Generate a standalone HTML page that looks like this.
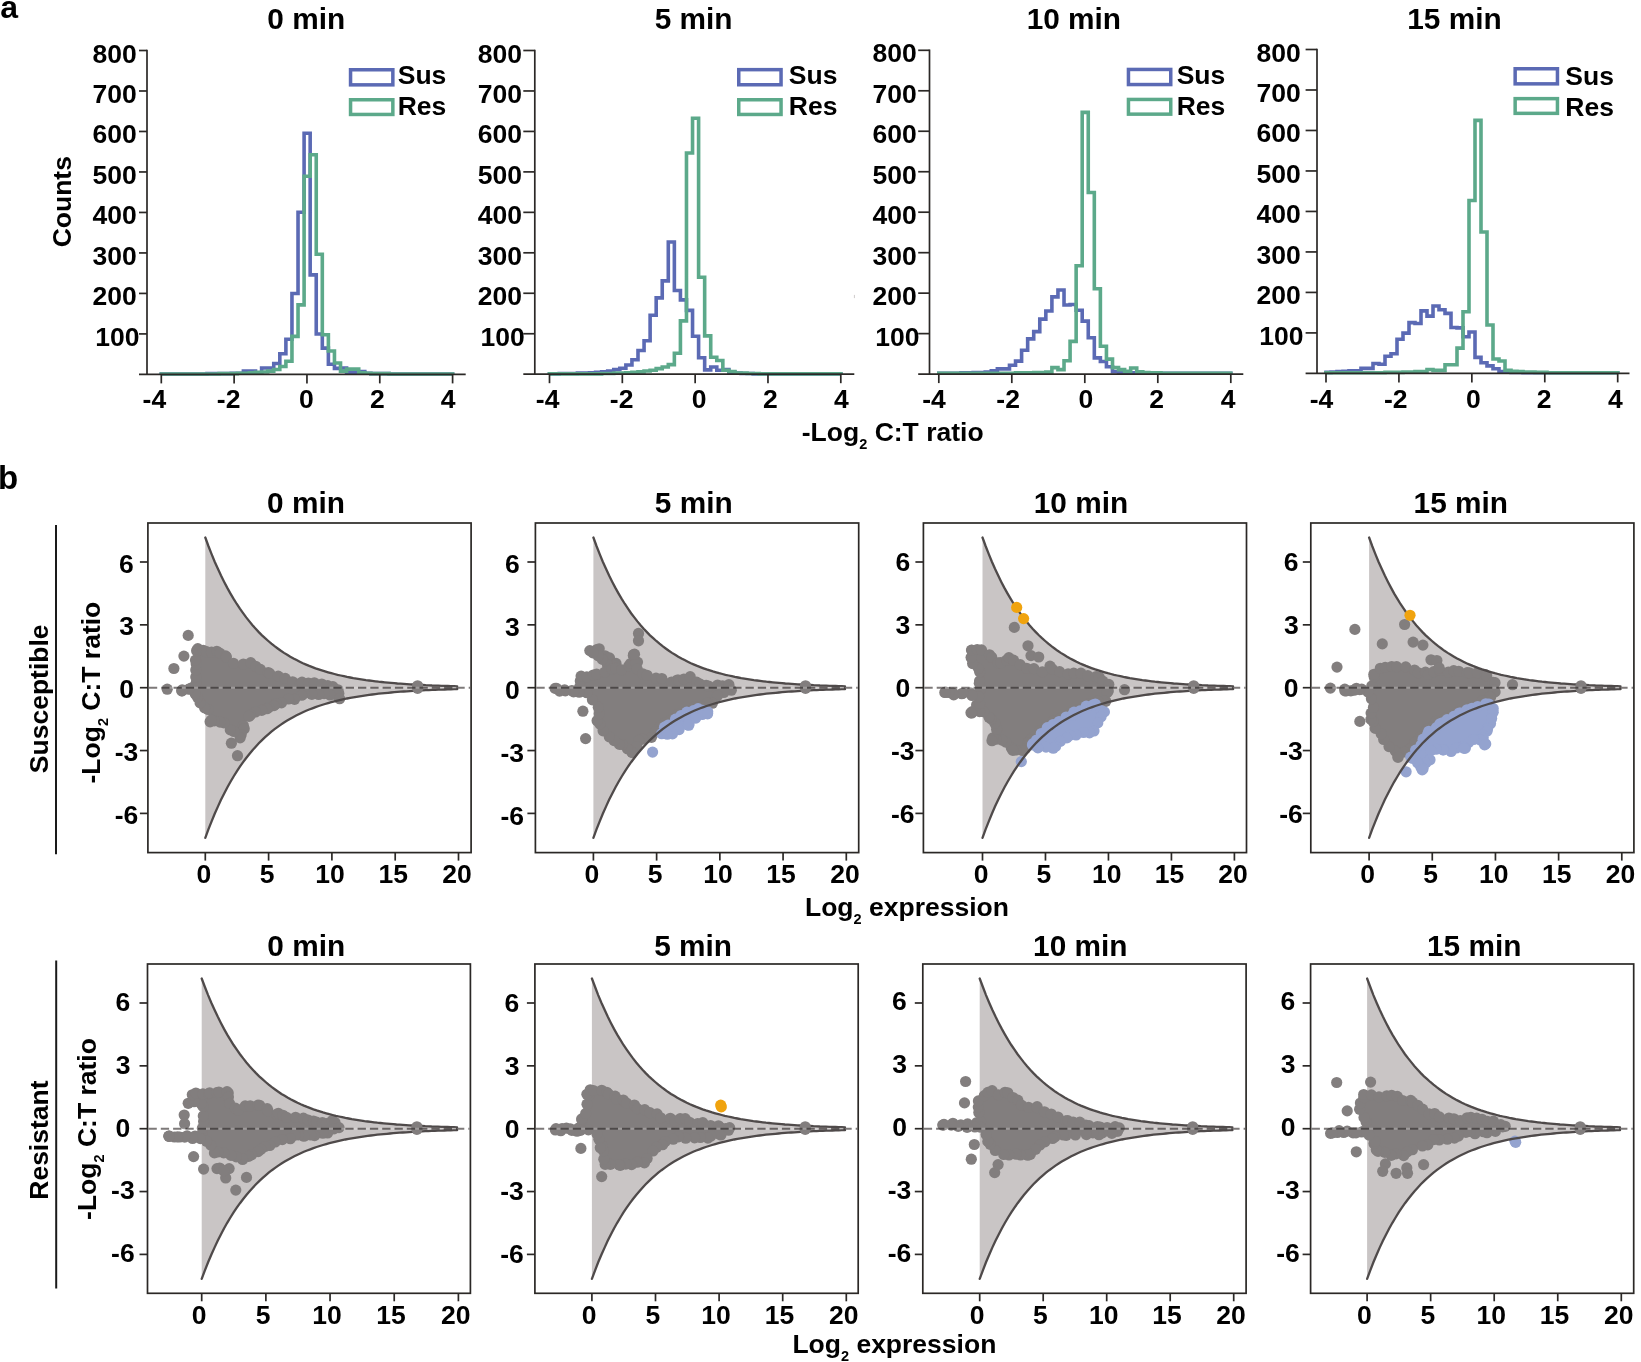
<!DOCTYPE html>
<html><head><meta charset="utf-8"><title>Figure</title>
<style>html,body{margin:0;padding:0;background:#fff;width:1641px;height:1362px;overflow:hidden}svg{display:block}</style>
</head><body>
<svg width="1641" height="1362" viewBox="0 0 1641 1362" font-family="'Liberation Sans', Arial, Helvetica, sans-serif" font-weight="bold" fill="#000">
<rect width="1641" height="1362" fill="#fff"/>
<path d="M161.30,374.40 L161.30,374.00 L164.49,374.00 L164.49,374.00 L170.56,374.00 L170.56,374.00 L176.63,374.00 L176.63,374.00 L182.70,374.00 L182.70,374.00 L188.77,374.00 L188.77,374.00 L194.84,374.00 L194.84,374.00 L200.91,374.00 L200.91,374.00 L206.98,374.00 L206.98,373.59 L213.05,373.59 L213.05,373.59 L219.12,373.59 L219.12,373.59 L225.19,373.59 L225.19,373.59 L231.26,373.59 L231.26,373.19 L237.33,373.19 L237.33,373.19 L243.40,373.19 L243.40,371.16 L249.47,371.16 L249.47,371.16 L255.54,371.16 L255.54,372.78 L261.61,372.78 L261.61,367.93 L267.68,367.93 L267.68,367.93 L273.75,367.93 L273.75,363.48 L279.82,363.48 L279.82,353.77 L285.89,353.77 L285.89,339.21 L291.96,339.21 L291.96,293.50 L298.03,293.50 L298.03,212.20 L304.10,212.20 L304.10,133.32 L310.17,133.32 L310.17,274.89 L316.24,274.89 L316.24,333.95 L322.31,333.95 L322.31,348.11 L328.38,348.11 L328.38,364.29 L334.45,364.29 L334.45,368.33 L340.52,368.33 L340.52,367.93 L346.59,367.93 L346.59,372.38 L352.66,372.38 L352.66,372.38 L358.73,372.38 L358.73,371.57 L364.80,371.57 L364.80,373.19 L370.87,373.19 L370.87,373.59 L376.94,373.59 L376.94,373.59 L383.01,373.59 L383.01,373.59 L389.08,373.59 L389.08,374.00 L395.15,374.00 L395.15,374.00 L401.22,374.00 L401.22,374.00 L407.29,374.00 L407.29,374.00 L413.36,374.00 L413.36,374.00 L419.43,374.00 L419.43,374.00 L425.50,374.00 L425.50,374.00 L431.57,374.00 L431.57,374.00 L437.64,374.00 L437.64,374.00 L443.71,374.00 L443.71,374.00 L449.78,374.00 L449.78,374.00 L452.60,374.00 L452.60,374.40" fill="none" stroke="#5b6ab4" stroke-width="3.6" stroke-linejoin="miter"/>
<path d="M161.30,374.40 L161.30,374.00 L164.49,374.00 L164.49,374.00 L170.56,374.00 L170.56,374.00 L176.63,374.00 L176.63,374.00 L182.70,374.00 L182.70,374.00 L188.77,374.00 L188.77,374.00 L194.84,374.00 L194.84,374.00 L200.91,374.00 L200.91,374.00 L206.98,374.00 L206.98,374.00 L213.05,374.00 L213.05,374.00 L219.12,374.00 L219.12,373.59 L225.19,373.59 L225.19,373.59 L231.26,373.59 L231.26,373.59 L237.33,373.59 L237.33,373.19 L243.40,373.19 L243.40,373.19 L249.47,373.19 L249.47,372.78 L255.54,372.78 L255.54,372.38 L261.61,372.38 L261.61,371.97 L267.68,371.97 L267.68,371.16 L273.75,371.16 L273.75,369.55 L279.82,369.55 L279.82,366.51 L285.89,366.51 L285.89,361.21 L291.96,361.21 L291.96,336.38 L298.03,336.38 L298.03,304.83 L304.10,304.83 L304.10,176.19 L310.17,176.19 L310.17,154.76 L316.24,154.76 L316.24,254.26 L322.31,254.26 L322.31,334.76 L328.38,334.76 L328.38,350.94 L334.45,350.94 L334.45,363.07 L340.52,363.07 L340.52,371.16 L346.59,371.16 L346.59,369.14 L352.66,369.14 L352.66,369.14 L358.73,369.14 L358.73,372.78 L364.80,372.78 L364.80,373.19 L370.87,373.19 L370.87,373.59 L376.94,373.59 L376.94,373.59 L383.01,373.59 L383.01,373.59 L389.08,373.59 L389.08,374.00 L395.15,374.00 L395.15,374.00 L401.22,374.00 L401.22,374.00 L407.29,374.00 L407.29,374.00 L413.36,374.00 L413.36,374.00 L419.43,374.00 L419.43,374.00 L425.50,374.00 L425.50,374.00 L431.57,374.00 L431.57,374.00 L437.64,374.00 L437.64,374.00 L443.71,374.00 L443.71,374.00 L449.78,374.00 L449.78,374.00 L452.60,374.00 L452.60,374.40" fill="none" stroke="#5ca98a" stroke-width="3.6" stroke-linejoin="miter"/>
<path d="M549.50,374.30 L549.50,373.90 L553.16,373.90 L553.16,373.90 L559.22,373.90 L559.22,373.49 L565.28,373.49 L565.28,373.49 L571.34,373.49 L571.34,373.49 L577.40,373.49 L577.40,373.09 L583.46,373.09 L583.46,373.09 L589.52,373.09 L589.52,372.68 L595.58,372.68 L595.58,372.28 L601.64,372.28 L601.64,371.87 L607.70,371.87 L607.70,371.06 L613.76,371.06 L613.76,369.45 L619.82,369.45 L619.82,368.23 L625.88,368.23 L625.88,365.00 L631.94,365.00 L631.94,359.74 L638.00,359.74 L638.00,350.43 L644.06,350.43 L644.06,340.73 L650.12,340.73 L650.12,315.24 L656.18,315.24 L656.18,297.85 L662.24,297.85 L662.24,280.86 L668.30,280.86 L668.30,242.03 L674.36,242.03 L674.36,290.57 L680.42,290.57 L680.42,299.87 L686.48,299.87 L686.48,310.39 L692.54,310.39 L692.54,336.28 L698.60,336.28 L698.60,357.72 L704.66,357.72 L704.66,369.85 L710.72,369.85 L710.72,367.02 L716.78,367.02 L716.78,370.25 L722.84,370.25 L722.84,369.45 L728.90,369.45 L728.90,372.28 L734.96,372.28 L734.96,373.09 L741.02,373.09 L741.02,373.49 L747.08,373.49 L747.08,373.49 L753.14,373.49 L753.14,373.90 L759.20,373.90 L759.20,373.90 L765.26,373.90 L765.26,373.90 L771.32,373.90 L771.32,373.90 L777.38,373.90 L777.38,373.90 L783.44,373.90 L783.44,373.90 L789.50,373.90 L789.50,373.90 L795.56,373.90 L795.56,373.90 L801.62,373.90 L801.62,373.90 L807.68,373.90 L807.68,373.90 L813.74,373.90 L813.74,373.90 L819.80,373.90 L819.80,373.90 L825.86,373.90 L825.86,373.90 L831.92,373.90 L831.92,373.90 L837.98,373.90 L837.98,373.90 L840.80,373.90 L840.80,374.30" fill="none" stroke="#5b6ab4" stroke-width="3.6" stroke-linejoin="miter"/>
<path d="M549.50,374.30 L549.50,373.90 L553.16,373.90 L553.16,373.90 L559.22,373.90 L559.22,373.90 L565.28,373.90 L565.28,373.90 L571.34,373.90 L571.34,373.90 L577.40,373.90 L577.40,373.90 L583.46,373.90 L583.46,373.90 L589.52,373.90 L589.52,373.90 L595.58,373.90 L595.58,373.90 L601.64,373.90 L601.64,373.49 L607.70,373.49 L607.70,373.49 L613.76,373.49 L613.76,373.09 L619.82,373.09 L619.82,373.09 L625.88,373.09 L625.88,372.68 L631.94,372.68 L631.94,372.28 L638.00,372.28 L638.00,371.87 L644.06,371.87 L644.06,371.06 L650.12,371.06 L650.12,370.25 L656.18,370.25 L656.18,368.64 L662.24,368.64 L662.24,367.02 L668.30,367.02 L668.30,364.59 L674.36,364.59 L674.36,353.27 L680.42,353.27 L680.42,320.91 L686.48,320.91 L686.48,153.04 L692.54,153.04 L692.54,118.25 L698.60,118.25 L698.60,277.22 L704.66,277.22 L704.66,335.87 L710.72,335.87 L710.72,357.31 L716.78,357.31 L716.78,360.55 L722.84,360.55 L722.84,370.25 L728.90,370.25 L728.90,371.47 L734.96,371.47 L734.96,373.09 L741.02,373.09 L741.02,373.09 L747.08,373.09 L747.08,373.49 L753.14,373.49 L753.14,373.49 L759.20,373.49 L759.20,373.90 L765.26,373.90 L765.26,373.90 L771.32,373.90 L771.32,373.90 L777.38,373.90 L777.38,373.90 L783.44,373.90 L783.44,373.90 L789.50,373.90 L789.50,373.90 L795.56,373.90 L795.56,373.90 L801.62,373.90 L801.62,373.90 L807.68,373.90 L807.68,373.90 L813.74,373.90 L813.74,373.90 L819.80,373.90 L819.80,373.90 L825.86,373.90 L825.86,373.90 L831.92,373.90 L831.92,373.90 L837.98,373.90 L837.98,373.90 L840.80,373.90 L840.80,374.30" fill="none" stroke="#5ca98a" stroke-width="3.6" stroke-linejoin="miter"/>
<path d="M938.80,373.70 L938.80,373.30 L942.82,373.30 L942.82,373.30 L948.88,373.30 L948.88,373.30 L954.94,373.30 L954.94,373.30 L961.00,373.30 L961.00,372.89 L967.06,372.89 L967.06,372.89 L973.12,372.89 L973.12,372.49 L979.18,372.49 L979.18,372.49 L985.24,372.49 L985.24,372.08 L991.30,372.08 L991.30,370.87 L997.36,370.87 L997.36,368.85 L1003.42,368.85 L1003.42,368.85 L1009.48,368.85 L1009.48,365.21 L1015.54,365.21 L1015.54,361.16 L1021.60,361.16 L1021.60,350.24 L1027.66,350.24 L1027.66,338.91 L1033.72,338.91 L1033.72,331.63 L1039.78,331.63 L1039.78,319.09 L1045.84,319.09 L1045.84,311.00 L1051.90,311.00 L1051.90,296.84 L1057.96,296.84 L1057.96,289.97 L1064.02,289.97 L1064.02,304.94 L1070.08,304.94 L1070.08,304.53 L1076.14,304.53 L1076.14,310.19 L1082.20,310.19 L1082.20,321.12 L1088.26,321.12 L1088.26,337.70 L1094.32,337.70 L1094.32,357.92 L1100.38,357.92 L1100.38,361.56 L1106.44,361.56 L1106.44,366.82 L1112.50,366.82 L1112.50,371.68 L1118.56,371.68 L1118.56,372.49 L1124.62,372.49 L1124.62,372.89 L1130.68,372.89 L1130.68,372.89 L1136.74,372.89 L1136.74,373.30 L1142.80,373.30 L1142.80,373.30 L1148.86,373.30 L1148.86,373.30 L1154.92,373.30 L1154.92,373.30 L1160.98,373.30 L1160.98,373.30 L1167.04,373.30 L1167.04,373.30 L1173.10,373.30 L1173.10,373.30 L1179.16,373.30 L1179.16,373.30 L1185.22,373.30 L1185.22,373.30 L1191.28,373.30 L1191.28,373.30 L1197.34,373.30 L1197.34,373.30 L1203.40,373.30 L1203.40,373.30 L1209.46,373.30 L1209.46,373.30 L1215.52,373.30 L1215.52,373.30 L1221.58,373.30 L1221.58,373.30 L1227.64,373.30 L1227.64,373.30 L1230.80,373.30 L1230.80,373.70" fill="none" stroke="#5b6ab4" stroke-width="3.6" stroke-linejoin="miter"/>
<path d="M938.80,373.70 L938.80,373.30 L942.82,373.30 L942.82,373.30 L948.88,373.30 L948.88,373.30 L954.94,373.30 L954.94,373.30 L961.00,373.30 L961.00,373.30 L967.06,373.30 L967.06,373.30 L973.12,373.30 L973.12,373.30 L979.18,373.30 L979.18,373.30 L985.24,373.30 L985.24,373.30 L991.30,373.30 L991.30,373.30 L997.36,373.30 L997.36,373.30 L1003.42,373.30 L1003.42,373.30 L1009.48,373.30 L1009.48,373.30 L1015.54,373.30 L1015.54,372.89 L1021.60,372.89 L1021.60,372.89 L1027.66,372.89 L1027.66,372.89 L1033.72,372.89 L1033.72,372.49 L1039.78,372.49 L1039.78,372.49 L1045.84,372.49 L1045.84,372.08 L1051.90,372.08 L1051.90,367.63 L1057.96,367.63 L1057.96,369.65 L1064.02,369.65 L1064.02,360.76 L1070.08,360.76 L1070.08,341.34 L1076.14,341.34 L1076.14,265.70 L1082.20,265.70 L1082.20,112.39 L1088.26,112.39 L1088.26,192.48 L1094.32,192.48 L1094.32,288.75 L1100.38,288.75 L1100.38,346.19 L1106.44,346.19 L1106.44,359.14 L1112.50,359.14 L1112.50,367.63 L1118.56,367.63 L1118.56,369.65 L1124.62,369.65 L1124.62,371.27 L1130.68,371.27 L1130.68,368.04 L1136.74,368.04 L1136.74,371.68 L1142.80,371.68 L1142.80,372.49 L1148.86,372.49 L1148.86,372.89 L1154.92,372.89 L1154.92,372.89 L1160.98,372.89 L1160.98,373.30 L1167.04,373.30 L1167.04,373.30 L1173.10,373.30 L1173.10,373.30 L1179.16,373.30 L1179.16,373.30 L1185.22,373.30 L1185.22,373.30 L1191.28,373.30 L1191.28,373.30 L1197.34,373.30 L1197.34,373.30 L1203.40,373.30 L1203.40,373.30 L1209.46,373.30 L1209.46,373.30 L1215.52,373.30 L1215.52,373.30 L1221.58,373.30 L1221.58,373.30 L1227.64,373.30 L1227.64,373.30 L1230.80,373.30 L1230.80,373.70" fill="none" stroke="#5ca98a" stroke-width="3.6" stroke-linejoin="miter"/>
<path d="M1326.00,373.20 L1326.00,372.39 L1331.00,372.39 L1331.00,371.99 L1337.00,371.99 L1337.00,371.58 L1343.00,371.58 L1343.00,371.18 L1349.00,371.18 L1349.00,370.77 L1355.00,370.77 L1355.00,370.77 L1361.00,370.77 L1361.00,368.35 L1367.00,368.35 L1367.00,368.35 L1373.00,368.35 L1373.00,363.49 L1379.00,363.49 L1379.00,364.30 L1385.00,364.30 L1385.00,356.21 L1391.00,356.21 L1391.00,353.78 L1397.00,353.78 L1397.00,339.22 L1403.00,339.22 L1403.00,333.15 L1409.00,333.15 L1409.00,322.64 L1415.00,322.64 L1415.00,323.45 L1421.00,323.45 L1421.00,310.91 L1427.00,310.91 L1427.00,316.17 L1433.00,316.17 L1433.00,306.05 L1439.00,306.05 L1439.00,309.69 L1445.00,309.69 L1445.00,313.33 L1451.00,313.33 L1451.00,327.49 L1457.00,327.49 L1457.00,327.90 L1463.00,327.90 L1463.00,336.79 L1469.00,336.79 L1469.00,331.94 L1475.00,331.94 L1475.00,357.42 L1481.00,357.42 L1481.00,362.68 L1487.00,362.68 L1487.00,365.92 L1493.00,365.92 L1493.00,368.75 L1499.00,368.75 L1499.00,371.58 L1505.00,371.58 L1505.00,371.99 L1511.00,371.99 L1511.00,372.39 L1517.00,372.39 L1517.00,372.39 L1523.00,372.39 L1523.00,372.80 L1529.00,372.80 L1529.00,372.80 L1535.00,372.80 L1535.00,372.80 L1541.00,372.80 L1541.00,372.80 L1547.00,372.80 L1547.00,372.80 L1553.00,372.80 L1553.00,372.80 L1559.00,372.80 L1559.00,372.80 L1565.00,372.80 L1565.00,372.80 L1571.00,372.80 L1571.00,372.80 L1577.00,372.80 L1577.00,372.80 L1583.00,372.80 L1583.00,372.80 L1589.00,372.80 L1589.00,372.80 L1595.00,372.80 L1595.00,372.80 L1601.00,372.80 L1601.00,372.80 L1607.00,372.80 L1607.00,372.80 L1613.00,372.80 L1613.00,372.80 L1617.70,372.80 L1617.70,373.20" fill="none" stroke="#5b6ab4" stroke-width="3.6" stroke-linejoin="miter"/>
<path d="M1326.00,373.20 L1326.00,372.80 L1331.00,372.80 L1331.00,372.80 L1337.00,372.80 L1337.00,372.80 L1343.00,372.80 L1343.00,372.80 L1349.00,372.80 L1349.00,372.80 L1355.00,372.80 L1355.00,372.80 L1361.00,372.80 L1361.00,372.80 L1367.00,372.80 L1367.00,372.80 L1373.00,372.80 L1373.00,372.80 L1379.00,372.80 L1379.00,372.80 L1385.00,372.80 L1385.00,372.39 L1391.00,372.39 L1391.00,372.39 L1397.00,372.39 L1397.00,372.39 L1403.00,372.39 L1403.00,371.99 L1409.00,371.99 L1409.00,371.99 L1415.00,371.99 L1415.00,371.58 L1421.00,371.58 L1421.00,371.58 L1427.00,371.58 L1427.00,369.56 L1433.00,369.56 L1433.00,370.37 L1439.00,370.37 L1439.00,370.37 L1445.00,370.37 L1445.00,364.71 L1451.00,364.71 L1451.00,364.71 L1457.00,364.71 L1457.00,348.12 L1463.00,348.12 L1463.00,311.72 L1469.00,311.72 L1469.00,200.48 L1475.00,200.48 L1475.00,120.39 L1481.00,120.39 L1481.00,232.03 L1487.00,232.03 L1487.00,325.06 L1493.00,325.06 L1493.00,359.04 L1499.00,359.04 L1499.00,361.06 L1505.00,361.06 L1505.00,370.37 L1511.00,370.37 L1511.00,371.18 L1517.00,371.18 L1517.00,371.58 L1523.00,371.58 L1523.00,371.99 L1529.00,371.99 L1529.00,371.99 L1535.00,371.99 L1535.00,372.39 L1541.00,372.39 L1541.00,372.39 L1547.00,372.39 L1547.00,372.80 L1553.00,372.80 L1553.00,372.80 L1559.00,372.80 L1559.00,372.80 L1565.00,372.80 L1565.00,372.80 L1571.00,372.80 L1571.00,372.80 L1577.00,372.80 L1577.00,372.80 L1583.00,372.80 L1583.00,372.80 L1589.00,372.80 L1589.00,372.80 L1595.00,372.80 L1595.00,372.80 L1601.00,372.80 L1601.00,372.80 L1607.00,372.80 L1607.00,372.80 L1613.00,372.80 L1613.00,372.80 L1617.70,372.80 L1617.70,373.20" fill="none" stroke="#5ca98a" stroke-width="3.6" stroke-linejoin="miter"/>
<text x="267.32" y="29.00" font-size="29.8" text-anchor="start" >0 min</text>
<line x1="147.00" y1="49.65" x2="147.00" y2="374.40" stroke="#2b2826" stroke-width="1.7" />
<line x1="139.00" y1="333.91" x2="147.00" y2="333.91" stroke="#2b2826" stroke-width="1.7" />
<text x="95.37" y="345.91" font-size="26.5" text-anchor="start" >100</text>
<line x1="139.00" y1="293.42" x2="147.00" y2="293.42" stroke="#2b2826" stroke-width="1.7" />
<text x="92.57" y="305.42" font-size="26.5" text-anchor="start" >200</text>
<line x1="139.00" y1="252.94" x2="147.00" y2="252.94" stroke="#2b2826" stroke-width="1.7" />
<text x="92.57" y="264.94" font-size="26.5" text-anchor="start" >300</text>
<line x1="139.00" y1="212.45" x2="147.00" y2="212.45" stroke="#2b2826" stroke-width="1.7" />
<text x="92.57" y="224.45" font-size="26.5" text-anchor="start" >400</text>
<line x1="139.00" y1="171.96" x2="147.00" y2="171.96" stroke="#2b2826" stroke-width="1.7" />
<text x="92.57" y="183.96" font-size="26.5" text-anchor="start" >500</text>
<line x1="139.00" y1="131.47" x2="147.00" y2="131.47" stroke="#2b2826" stroke-width="1.7" />
<text x="92.57" y="143.47" font-size="26.5" text-anchor="start" >600</text>
<line x1="139.00" y1="90.99" x2="147.00" y2="90.99" stroke="#2b2826" stroke-width="1.7" />
<text x="92.57" y="102.99" font-size="26.5" text-anchor="start" >700</text>
<line x1="139.00" y1="50.50" x2="147.00" y2="50.50" stroke="#2b2826" stroke-width="1.7" />
<text x="92.57" y="62.50" font-size="26.5" text-anchor="start" >800</text>
<line x1="139.00" y1="374.40" x2="465.70" y2="374.40" stroke="#2b2826" stroke-width="1.7" />
<line x1="161.30" y1="374.40" x2="161.30" y2="383.40" stroke="#2b2826" stroke-width="1.7" />
<text x="142.62" y="407.70" font-size="26.5" text-anchor="start" >-4</text>
<line x1="234.12" y1="374.40" x2="234.12" y2="383.40" stroke="#2b2826" stroke-width="1.7" />
<text x="216.83" y="407.70" font-size="26.5" text-anchor="start" >-2</text>
<line x1="306.95" y1="374.40" x2="306.95" y2="383.40" stroke="#2b2826" stroke-width="1.7" />
<text x="298.90" y="407.70" font-size="26.5" text-anchor="start" >0</text>
<line x1="379.78" y1="374.40" x2="379.78" y2="383.40" stroke="#2b2826" stroke-width="1.7" />
<text x="369.90" y="407.70" font-size="26.5" text-anchor="start" >2</text>
<line x1="452.60" y1="374.40" x2="452.60" y2="383.40" stroke="#2b2826" stroke-width="1.7" />
<text x="440.70" y="407.70" font-size="26.5" text-anchor="start" >4</text>
<rect x="350.55" y="69.75" width="42.3" height="15.1" fill="none" stroke="#5b6ab4" stroke-width="3.5"/>
<rect x="350.55" y="99.75" width="42.3" height="14.7" fill="none" stroke="#5ca98a" stroke-width="3.5"/>
<text x="397.74" y="84.40" font-size="26.5" text-anchor="start" >Sus</text>
<text x="397.74" y="114.90" font-size="26.5" text-anchor="start" >Res</text>
<text x="654.75" y="29.00" font-size="29.8" text-anchor="start" >5 min</text>
<line x1="534.80" y1="49.65" x2="534.80" y2="374.20" stroke="#2b2826" stroke-width="1.7" />
<line x1="523.30" y1="333.74" x2="534.80" y2="333.74" stroke="#2b2826" stroke-width="1.7" />
<text x="480.47" y="345.74" font-size="26.5" text-anchor="start" >100</text>
<line x1="523.30" y1="293.27" x2="534.80" y2="293.27" stroke="#2b2826" stroke-width="1.7" />
<text x="477.67" y="305.27" font-size="26.5" text-anchor="start" >200</text>
<line x1="523.30" y1="252.81" x2="534.80" y2="252.81" stroke="#2b2826" stroke-width="1.7" />
<text x="477.67" y="264.81" font-size="26.5" text-anchor="start" >300</text>
<line x1="523.30" y1="212.35" x2="534.80" y2="212.35" stroke="#2b2826" stroke-width="1.7" />
<text x="477.67" y="224.35" font-size="26.5" text-anchor="start" >400</text>
<line x1="523.30" y1="171.89" x2="534.80" y2="171.89" stroke="#2b2826" stroke-width="1.7" />
<text x="477.67" y="183.89" font-size="26.5" text-anchor="start" >500</text>
<line x1="523.30" y1="131.43" x2="534.80" y2="131.43" stroke="#2b2826" stroke-width="1.7" />
<text x="477.67" y="143.43" font-size="26.5" text-anchor="start" >600</text>
<line x1="523.30" y1="90.96" x2="534.80" y2="90.96" stroke="#2b2826" stroke-width="1.7" />
<text x="477.67" y="102.96" font-size="26.5" text-anchor="start" >700</text>
<line x1="523.30" y1="50.50" x2="534.80" y2="50.50" stroke="#2b2826" stroke-width="1.7" />
<text x="477.67" y="62.50" font-size="26.5" text-anchor="start" >800</text>
<line x1="523.30" y1="374.20" x2="854.30" y2="374.20" stroke="#2b2826" stroke-width="1.7" />
<line x1="549.50" y1="374.20" x2="549.50" y2="383.20" stroke="#2b2826" stroke-width="1.7" />
<text x="535.82" y="407.70" font-size="26.5" text-anchor="start" >-4</text>
<line x1="622.33" y1="374.20" x2="622.33" y2="383.20" stroke="#2b2826" stroke-width="1.7" />
<text x="609.83" y="407.70" font-size="26.5" text-anchor="start" >-2</text>
<line x1="695.15" y1="374.20" x2="695.15" y2="383.20" stroke="#2b2826" stroke-width="1.7" />
<text x="691.80" y="407.70" font-size="26.5" text-anchor="start" >0</text>
<line x1="767.97" y1="374.20" x2="767.97" y2="383.20" stroke="#2b2826" stroke-width="1.7" />
<text x="763.10" y="407.70" font-size="26.5" text-anchor="start" >2</text>
<line x1="840.80" y1="374.20" x2="840.80" y2="383.20" stroke="#2b2826" stroke-width="1.7" />
<text x="834.10" y="407.70" font-size="26.5" text-anchor="start" >4</text>
<rect x="738.75" y="69.65" width="42.3" height="15.1" fill="none" stroke="#5b6ab4" stroke-width="3.5"/>
<rect x="738.75" y="99.75" width="42.3" height="14.7" fill="none" stroke="#5ca98a" stroke-width="3.5"/>
<text x="788.84" y="84.30" font-size="26.5" text-anchor="start" >Sus</text>
<text x="788.84" y="114.80" font-size="26.5" text-anchor="start" >Res</text>
<text x="1026.68" y="29.00" font-size="29.8" text-anchor="start" >10 min</text>
<line x1="929.50" y1="49.45" x2="929.50" y2="374.10" stroke="#2b2826" stroke-width="1.7" />
<line x1="918.20" y1="333.62" x2="929.50" y2="333.62" stroke="#2b2826" stroke-width="1.7" />
<text x="875.27" y="345.62" font-size="26.5" text-anchor="start" >100</text>
<line x1="918.20" y1="293.15" x2="929.50" y2="293.15" stroke="#2b2826" stroke-width="1.7" />
<text x="872.47" y="305.15" font-size="26.5" text-anchor="start" >200</text>
<line x1="918.20" y1="252.68" x2="929.50" y2="252.68" stroke="#2b2826" stroke-width="1.7" />
<text x="872.47" y="264.68" font-size="26.5" text-anchor="start" >300</text>
<line x1="918.20" y1="212.20" x2="929.50" y2="212.20" stroke="#2b2826" stroke-width="1.7" />
<text x="872.47" y="224.20" font-size="26.5" text-anchor="start" >400</text>
<line x1="918.20" y1="171.73" x2="929.50" y2="171.73" stroke="#2b2826" stroke-width="1.7" />
<text x="872.47" y="183.73" font-size="26.5" text-anchor="start" >500</text>
<line x1="918.20" y1="131.25" x2="929.50" y2="131.25" stroke="#2b2826" stroke-width="1.7" />
<text x="872.47" y="143.25" font-size="26.5" text-anchor="start" >600</text>
<line x1="918.20" y1="90.78" x2="929.50" y2="90.78" stroke="#2b2826" stroke-width="1.7" />
<text x="872.47" y="102.78" font-size="26.5" text-anchor="start" >700</text>
<line x1="918.20" y1="50.30" x2="929.50" y2="50.30" stroke="#2b2826" stroke-width="1.7" />
<text x="872.47" y="62.30" font-size="26.5" text-anchor="start" >800</text>
<line x1="918.20" y1="374.10" x2="1243.30" y2="374.10" stroke="#2b2826" stroke-width="1.7" />
<line x1="938.80" y1="374.10" x2="938.80" y2="383.10" stroke="#2b2826" stroke-width="1.7" />
<text x="922.27" y="407.70" font-size="26.5" text-anchor="start" >-4</text>
<line x1="1011.80" y1="374.10" x2="1011.80" y2="383.10" stroke="#2b2826" stroke-width="1.7" />
<text x="996.33" y="407.70" font-size="26.5" text-anchor="start" >-2</text>
<line x1="1084.80" y1="374.10" x2="1084.80" y2="383.10" stroke="#2b2826" stroke-width="1.7" />
<text x="1078.50" y="407.70" font-size="26.5" text-anchor="start" >0</text>
<line x1="1157.80" y1="374.10" x2="1157.80" y2="383.10" stroke="#2b2826" stroke-width="1.7" />
<text x="1149.35" y="407.70" font-size="26.5" text-anchor="start" >2</text>
<line x1="1230.80" y1="374.10" x2="1230.80" y2="383.10" stroke="#2b2826" stroke-width="1.7" />
<text x="1220.70" y="407.70" font-size="26.5" text-anchor="start" >4</text>
<rect x="1128.45" y="69.45" width="42.3" height="15.1" fill="none" stroke="#5b6ab4" stroke-width="3.5"/>
<rect x="1128.45" y="99.45" width="42.3" height="14.7" fill="none" stroke="#5ca98a" stroke-width="3.5"/>
<text x="1176.64" y="84.30" font-size="26.5" text-anchor="start" >Sus</text>
<text x="1176.64" y="114.80" font-size="26.5" text-anchor="start" >Res</text>
<text x="1407.28" y="29.00" font-size="29.8" text-anchor="start" >15 min</text>
<line x1="1317.00" y1="48.65" x2="1317.00" y2="373.40" stroke="#2b2826" stroke-width="1.7" />
<line x1="1305.60" y1="332.91" x2="1317.00" y2="332.91" stroke="#2b2826" stroke-width="1.7" />
<text x="1259.37" y="344.91" font-size="26.5" text-anchor="start" >100</text>
<line x1="1305.60" y1="292.42" x2="1317.00" y2="292.42" stroke="#2b2826" stroke-width="1.7" />
<text x="1256.57" y="304.42" font-size="26.5" text-anchor="start" >200</text>
<line x1="1305.60" y1="251.94" x2="1317.00" y2="251.94" stroke="#2b2826" stroke-width="1.7" />
<text x="1256.57" y="263.94" font-size="26.5" text-anchor="start" >300</text>
<line x1="1305.60" y1="211.45" x2="1317.00" y2="211.45" stroke="#2b2826" stroke-width="1.7" />
<text x="1256.57" y="223.45" font-size="26.5" text-anchor="start" >400</text>
<line x1="1305.60" y1="170.96" x2="1317.00" y2="170.96" stroke="#2b2826" stroke-width="1.7" />
<text x="1256.57" y="182.96" font-size="26.5" text-anchor="start" >500</text>
<line x1="1305.60" y1="130.47" x2="1317.00" y2="130.47" stroke="#2b2826" stroke-width="1.7" />
<text x="1256.57" y="142.47" font-size="26.5" text-anchor="start" >600</text>
<line x1="1305.60" y1="89.99" x2="1317.00" y2="89.99" stroke="#2b2826" stroke-width="1.7" />
<text x="1256.57" y="101.99" font-size="26.5" text-anchor="start" >700</text>
<line x1="1305.60" y1="49.50" x2="1317.00" y2="49.50" stroke="#2b2826" stroke-width="1.7" />
<text x="1256.57" y="61.50" font-size="26.5" text-anchor="start" >800</text>
<line x1="1305.60" y1="373.40" x2="1629.50" y2="373.40" stroke="#2b2826" stroke-width="1.7" />
<line x1="1326.00" y1="373.40" x2="1326.00" y2="382.40" stroke="#2b2826" stroke-width="1.7" />
<text x="1309.67" y="407.70" font-size="26.5" text-anchor="start" >-4</text>
<line x1="1398.92" y1="373.40" x2="1398.92" y2="382.40" stroke="#2b2826" stroke-width="1.7" />
<text x="1384.03" y="407.70" font-size="26.5" text-anchor="start" >-2</text>
<line x1="1471.85" y1="373.40" x2="1471.85" y2="382.40" stroke="#2b2826" stroke-width="1.7" />
<text x="1466.00" y="407.70" font-size="26.5" text-anchor="start" >0</text>
<line x1="1544.78" y1="373.40" x2="1544.78" y2="382.40" stroke="#2b2826" stroke-width="1.7" />
<text x="1536.75" y="407.70" font-size="26.5" text-anchor="start" >2</text>
<line x1="1617.70" y1="373.40" x2="1617.70" y2="382.40" stroke="#2b2826" stroke-width="1.7" />
<text x="1607.90" y="407.70" font-size="26.5" text-anchor="start" >4</text>
<rect x="1515.15" y="68.75" width="42.3" height="15.1" fill="none" stroke="#5b6ab4" stroke-width="3.5"/>
<rect x="1515.15" y="98.65" width="42.3" height="14.7" fill="none" stroke="#5ca98a" stroke-width="3.5"/>
<text x="1565.34" y="84.90" font-size="26.5" text-anchor="start" >Sus</text>
<text x="1565.34" y="115.60" font-size="26.5" text-anchor="start" >Res</text>
<rect x="853.9" y="294.9" width="1.1" height="3.2" fill="#d3d0d0"/>
<text x="0.20" y="18.40" font-size="32" text-anchor="start" >a</text>
<text x="-2.00" y="489.00" font-size="33" text-anchor="start" >b</text>
<text transform="translate(71.4,201.7) rotate(-90)" font-size="26.5" text-anchor="middle">Counts</text>
<text x="801.8" y="440.9" font-size="26.5">-Log<tspan font-size="14.5" dy="8.2">2</tspan><tspan dy="-8.2"> C:T ratio</tspan></text>
<text x="267.12" y="513.10" font-size="29.8" text-anchor="start" >0 min</text>
<polygon points="205.3,537.5 208.4,546.0 211.6,554.1 214.7,561.7 217.9,568.8 221.0,575.6 224.2,581.9 227.3,587.9 230.5,593.6 233.6,598.9 236.8,604.0 239.9,608.7 243.1,613.2 246.2,617.4 249.4,621.4 252.5,625.2 255.7,628.7 258.8,632.1 262.0,635.3 265.1,638.2 268.3,641.0 271.4,643.7 274.6,646.2 277.7,648.5 280.9,650.8 284.0,652.9 287.2,654.8 290.3,656.7 293.5,658.5 296.6,660.1 299.8,661.7 302.9,663.2 306.1,664.6 309.2,665.9 312.4,667.1 315.5,668.3 318.7,669.4 321.8,670.4 325.0,671.4 328.1,672.3 331.3,673.2 334.4,674.0 337.6,674.8 340.7,675.5 343.9,676.2 347.0,676.9 350.2,677.5 353.3,678.1 356.5,678.6 359.6,679.1 362.8,679.6 365.9,680.1 369.1,680.5 372.2,680.9 375.4,681.3 378.5,681.7 381.7,682.0 384.8,682.3 388.0,682.6 391.1,682.9 394.3,683.2 397.4,683.5 400.5,683.7 403.7,683.9 406.8,684.1 410.0,684.3 413.1,684.5 416.3,684.7 419.4,684.9 422.6,685.0 425.7,685.2 428.9,685.3 432.0,685.5 435.2,685.6 438.3,685.7 441.5,685.8 444.6,685.9 447.8,686.0 450.9,686.1 454.1,686.2 457.2,686.3 457.2,689.1 454.1,689.2 450.9,689.3 447.8,689.4 444.6,689.5 441.5,689.6 438.3,689.7 435.2,689.8 432.0,689.9 428.9,690.1 425.7,690.2 422.6,690.4 419.4,690.5 416.3,690.7 413.1,690.9 410.0,691.1 406.8,691.3 403.7,691.5 400.5,691.7 397.4,691.9 394.3,692.2 391.1,692.5 388.0,692.8 384.8,693.1 381.7,693.4 378.5,693.7 375.4,694.1 372.2,694.5 369.1,694.9 365.9,695.3 362.8,695.8 359.6,696.3 356.5,696.8 353.3,697.3 350.2,697.9 347.0,698.5 343.9,699.2 340.7,699.9 337.6,700.6 334.4,701.4 331.3,702.2 328.1,703.1 325.0,704.0 321.8,705.0 318.7,706.0 315.5,707.1 312.4,708.3 309.2,709.5 306.1,710.8 302.9,712.2 299.8,713.7 296.6,715.3 293.5,716.9 290.3,718.7 287.2,720.6 284.0,722.5 280.9,724.6 277.7,726.9 274.6,729.2 271.4,731.7 268.3,734.4 265.1,737.2 262.0,740.1 258.8,743.3 255.7,746.7 252.5,750.2 249.4,754.0 246.2,758.0 243.1,762.2 239.9,766.7 236.8,771.4 233.6,776.5 230.5,781.8 227.3,787.5 224.2,793.5 221.0,799.8 217.9,806.6 214.7,813.7 211.6,821.3 208.4,829.4 205.3,837.9" fill="#c9c5c5"/>
<g fill="#827e7e"><polygon points="181.2,689.6 191.6,688.4 195.2,682.3 195.8,672.5 194.0,661.6 197.0,648.2 206.2,650.0 210.5,650.6 218.4,651.2 227.5,654.9 233.0,661.6 240.3,662.8 248.8,660.3 253.7,665.2 261.0,667.7 269.6,671.3 276.9,674.4 283.0,676.2 292.7,679.8 301.3,681.1 308.6,681.7 319.5,683.3 332.9,685.3 340.3,687.2 340.3,693.3 337.8,698.1 330.5,695.7 319.5,694.5 303.7,696.3 291.5,700.6 283.0,703.6 274.4,706.0 267.1,709.1 258.6,712.8 250.1,715.8 244.6,722.5 244.6,728.6 240.3,738.3 235.4,732.3 229.3,731.0 220.8,723.1 212.3,723.1 208.6,722.5 208.6,712.8 203.8,709.1 200.1,703.0 196.4,696.9 191.6,692.0 181.2,691.4"/><circle cx="182.2" cy="689.9" r="5.6"/><circle cx="190.1" cy="688.8" r="5.6"/><circle cx="192.3" cy="687.5" r="5.6"/><circle cx="196.4" cy="682.2" r="5.6"/><circle cx="195.8" cy="676.9" r="5.6"/><circle cx="195.8" cy="670.0" r="5.6"/><circle cx="196.2" cy="663.9" r="5.6"/><circle cx="195.5" cy="660.1" r="5.6"/><circle cx="196.6" cy="650.7" r="5.6"/><circle cx="197.8" cy="648.7" r="5.6"/><circle cx="203.2" cy="650.3" r="5.6"/><circle cx="206.5" cy="651.7" r="5.6"/><circle cx="211.5" cy="652.2" r="5.6"/><circle cx="216.8" cy="651.3" r="5.6"/><circle cx="219.8" cy="653.1" r="5.6"/><circle cx="225.6" cy="655.9" r="5.6"/><circle cx="226.4" cy="657.0" r="5.6"/><circle cx="233.5" cy="663.3" r="5.6"/><circle cx="243.4" cy="664.0" r="5.6"/><circle cx="250.7" cy="662.7" r="5.6"/><circle cx="255.7" cy="666.3" r="5.6"/><circle cx="260.4" cy="669.4" r="5.6"/><circle cx="268.3" cy="672.5" r="5.6"/><circle cx="269.7" cy="673.5" r="5.6"/><circle cx="278.2" cy="676.1" r="5.6"/><circle cx="285.2" cy="678.4" r="5.6"/><circle cx="292.6" cy="681.8" r="5.6"/><circle cx="300.3" cy="683.7" r="5.6"/><circle cx="302.0" cy="682.2" r="5.6"/><circle cx="308.4" cy="683.0" r="5.6"/><circle cx="314.3" cy="682.8" r="5.6"/><circle cx="321.8" cy="684.0" r="5.6"/><circle cx="327.7" cy="685.6" r="5.6"/><circle cx="332.9" cy="686.6" r="5.6"/><circle cx="338.0" cy="689.8" r="5.6"/><circle cx="338.8" cy="693.5" r="5.6"/><circle cx="336.1" cy="694.7" r="5.6"/><circle cx="330.0" cy="695.0" r="5.6"/><circle cx="324.1" cy="693.6" r="5.6"/><circle cx="318.7" cy="694.5" r="5.6"/><circle cx="311.8" cy="694.3" r="5.6"/><circle cx="304.1" cy="693.6" r="5.6"/><circle cx="301.7" cy="695.2" r="5.6"/><circle cx="294.6" cy="699.3" r="5.6"/><circle cx="288.5" cy="699.0" r="5.6"/><circle cx="281.5" cy="702.9" r="5.6"/><circle cx="276.1" cy="703.7" r="5.6"/><circle cx="274.0" cy="705.6" r="5.6"/><circle cx="268.6" cy="707.5" r="5.6"/><circle cx="267.0" cy="708.7" r="5.6"/><circle cx="261.7" cy="710.3" r="5.6"/><circle cx="255.5" cy="712.0" r="5.6"/><circle cx="250.5" cy="714.9" r="5.6"/><circle cx="249.1" cy="716.4" r="5.6"/><circle cx="243.3" cy="725.5" r="5.6"/><circle cx="244.2" cy="728.7" r="5.6"/><circle cx="241.2" cy="734.5" r="5.6"/><circle cx="240.1" cy="737.9" r="5.6"/><circle cx="234.0" cy="731.5" r="5.6"/><circle cx="230.3" cy="729.9" r="5.6"/><circle cx="224.0" cy="722.8" r="5.6"/><circle cx="220.0" cy="722.1" r="5.6"/><circle cx="214.3" cy="720.9" r="5.6"/><circle cx="210.1" cy="721.8" r="5.6"/><circle cx="211.4" cy="720.1" r="5.6"/><circle cx="208.1" cy="709.5" r="5.6"/><circle cx="204.6" cy="707.8" r="5.6"/><circle cx="200.1" cy="702.9" r="5.6"/><circle cx="197.5" cy="697.2" r="5.6"/><circle cx="195.3" cy="694.0" r="5.6"/><circle cx="188.8" cy="689.2" r="5.6"/><circle cx="182.0" cy="690.9" r="5.6"/><circle cx="181.8" cy="690.8" r="5.6"/><circle cx="188.2" cy="635.4" r="5.6"/><circle cx="183.9" cy="656.1" r="5.6"/><circle cx="173.9" cy="668.5" r="5.6"/><circle cx="167.2" cy="689.2" r="5.6"/><circle cx="237.5" cy="755.7" r="5.6"/><circle cx="231.4" cy="743.2" r="5.6"/><circle cx="339.6" cy="698.7" r="5.6"/></g>
<polyline points="205.3,537.5 208.4,546.0 211.6,554.1 214.7,561.7 217.9,568.8 221.0,575.6 224.2,581.9 227.3,587.9 230.5,593.6 233.6,598.9 236.8,604.0 239.9,608.7 243.1,613.2 246.2,617.4 249.4,621.4 252.5,625.2 255.7,628.7 258.8,632.1 262.0,635.3 265.1,638.2 268.3,641.0 271.4,643.7 274.6,646.2 277.7,648.5 280.9,650.8 284.0,652.9 287.2,654.8 290.3,656.7 293.5,658.5 296.6,660.1 299.8,661.7 302.9,663.2 306.1,664.6 309.2,665.9 312.4,667.1 315.5,668.3 318.7,669.4 321.8,670.4 325.0,671.4 328.1,672.3 331.3,673.2 334.4,674.0 337.6,674.8 340.7,675.5 343.9,676.2 347.0,676.9 350.2,677.5 353.3,678.1 356.5,678.6 359.6,679.1 362.8,679.6 365.9,680.1 369.1,680.5 372.2,680.9 375.4,681.3 378.5,681.7 381.7,682.0 384.8,682.3 388.0,682.6 391.1,682.9 394.3,683.2 397.4,683.5 400.5,683.7 403.7,683.9 406.8,684.1 410.0,684.3 413.1,684.5 416.3,684.7 419.4,684.9 422.6,685.0 425.7,685.2 428.9,685.3 432.0,685.5 435.2,685.6 438.3,685.7 441.5,685.8 444.6,685.9 447.8,686.0 450.9,686.1 454.1,686.2 457.2,686.3" fill="none" stroke="#4f4a4a" stroke-width="2.3" stroke-linecap="round"/>
<polyline points="205.3,837.9 208.4,829.4 211.6,821.3 214.7,813.7 217.9,806.6 221.0,799.8 224.2,793.5 227.3,787.5 230.5,781.8 233.6,776.5 236.8,771.4 239.9,766.7 243.1,762.2 246.2,758.0 249.4,754.0 252.5,750.2 255.7,746.7 258.8,743.3 262.0,740.1 265.1,737.2 268.3,734.4 271.4,731.7 274.6,729.2 277.7,726.9 280.9,724.6 284.0,722.5 287.2,720.6 290.3,718.7 293.5,716.9 296.6,715.3 299.8,713.7 302.9,712.2 306.1,710.8 309.2,709.5 312.4,708.3 315.5,707.1 318.7,706.0 321.8,705.0 325.0,704.0 328.1,703.1 331.3,702.2 334.4,701.4 337.6,700.6 340.7,699.9 343.9,699.2 347.0,698.5 350.2,697.9 353.3,697.3 356.5,696.8 359.6,696.3 362.8,695.8 365.9,695.3 369.1,694.9 372.2,694.5 375.4,694.1 378.5,693.7 381.7,693.4 384.8,693.1 388.0,692.8 391.1,692.5 394.3,692.2 397.4,691.9 400.5,691.7 403.7,691.5 406.8,691.3 410.0,691.1 413.1,690.9 416.3,690.7 419.4,690.5 422.6,690.4 425.7,690.2 428.9,690.1 432.0,689.9 435.2,689.8 438.3,689.7 441.5,689.6 444.6,689.5 447.8,689.4 450.9,689.3 454.1,689.2 457.2,689.1" fill="none" stroke="#4f4a4a" stroke-width="2.3" stroke-linecap="round"/>
<g fill="#827e7e"><circle cx="417.6" cy="685.8" r="5.6"/><circle cx="417.6" cy="688.3" r="5.6"/></g>
<line x1="157.19" y1="687.70" x2="461.03" y2="687.70" stroke="#ffffff" stroke-width="2.0" opacity="0.22"/>
<line x1="148.90" y1="687.70" x2="470.10" y2="687.70" stroke="#7d7979" stroke-width="2.0" stroke-dasharray="8.3 4.0" style="mix-blend-mode:multiply"/>

<rect x="147.90" y="523.00" width="323.20" height="329.60" fill="none" stroke="#2b2826" stroke-width="1.7"/>
<line x1="139.90" y1="562.00" x2="147.90" y2="562.00" stroke="#2b2826" stroke-width="1.7" />
<text x="119.12" y="572.60" font-size="26.5" text-anchor="start" >6</text>
<line x1="139.90" y1="624.85" x2="147.90" y2="624.85" stroke="#2b2826" stroke-width="1.7" />
<text x="119.31" y="635.45" font-size="26.5" text-anchor="start" >3</text>
<line x1="139.90" y1="687.70" x2="147.90" y2="687.70" stroke="#2b2826" stroke-width="1.7" />
<text x="119.15" y="698.30" font-size="26.5" text-anchor="start" >0</text>
<line x1="139.90" y1="750.55" x2="147.90" y2="750.55" stroke="#2b2826" stroke-width="1.7" />
<text x="114.68" y="761.15" font-size="26.5" text-anchor="start" >-3</text>
<line x1="139.90" y1="813.40" x2="147.90" y2="813.40" stroke="#2b2826" stroke-width="1.7" />
<text x="114.68" y="824.00" font-size="26.5" text-anchor="start" >-6</text>
<line x1="205.30" y1="852.60" x2="205.30" y2="860.60" stroke="#2b2826" stroke-width="1.7" />
<text x="196.45" y="883.30" font-size="26.5" text-anchor="start" >0</text>
<line x1="268.60" y1="852.60" x2="268.60" y2="860.60" stroke="#2b2826" stroke-width="1.7" />
<text x="259.69" y="883.30" font-size="26.5" text-anchor="start" >5</text>
<line x1="331.90" y1="852.60" x2="331.90" y2="860.60" stroke="#2b2826" stroke-width="1.7" />
<text x="315.37" y="883.30" font-size="26.5" text-anchor="start" >10</text>
<line x1="395.20" y1="852.60" x2="395.20" y2="860.60" stroke="#2b2826" stroke-width="1.7" />
<text x="378.50" y="883.30" font-size="26.5" text-anchor="start" >15</text>
<line x1="458.50" y1="852.60" x2="458.50" y2="860.60" stroke="#2b2826" stroke-width="1.7" />
<text x="442.35" y="883.30" font-size="26.5" text-anchor="start" >20</text>
<text x="654.85" y="513.10" font-size="29.8" text-anchor="start" >5 min</text>
<polygon points="593.4,537.5 596.5,546.0 599.7,554.1 602.8,561.7 606.0,568.8 609.1,575.6 612.3,581.9 615.4,587.9 618.6,593.6 621.7,598.9 624.9,604.0 628.0,608.7 631.1,613.2 634.3,617.4 637.4,621.4 640.6,625.2 643.7,628.7 646.9,632.1 650.0,635.3 653.2,638.2 656.3,641.0 659.5,643.7 662.6,646.2 665.7,648.5 668.9,650.8 672.0,652.9 675.2,654.8 678.3,656.7 681.5,658.5 684.6,660.1 687.8,661.7 690.9,663.2 694.1,664.6 697.2,665.9 700.3,667.1 703.5,668.3 706.6,669.4 709.8,670.4 712.9,671.4 716.1,672.3 719.2,673.2 722.4,674.0 725.5,674.8 728.7,675.5 731.8,676.2 734.9,676.9 738.1,677.5 741.2,678.1 744.4,678.6 747.5,679.1 750.7,679.6 753.8,680.1 757.0,680.5 760.1,680.9 763.3,681.3 766.4,681.7 769.5,682.0 772.7,682.3 775.8,682.6 779.0,682.9 782.1,683.2 785.3,683.5 788.4,683.7 791.6,683.9 794.7,684.1 797.9,684.3 801.0,684.5 804.1,684.7 807.3,684.9 810.4,685.0 813.6,685.2 816.7,685.3 819.9,685.5 823.0,685.6 826.2,685.7 829.3,685.8 832.5,685.9 835.6,686.0 838.7,686.1 841.9,686.2 845.0,686.3 845.0,689.1 841.9,689.2 838.7,689.3 835.6,689.4 832.5,689.5 829.3,689.6 826.2,689.7 823.0,689.8 819.9,689.9 816.7,690.1 813.6,690.2 810.4,690.4 807.3,690.5 804.1,690.7 801.0,690.9 797.9,691.1 794.7,691.3 791.6,691.5 788.4,691.7 785.3,691.9 782.1,692.2 779.0,692.5 775.8,692.8 772.7,693.1 769.5,693.4 766.4,693.7 763.3,694.1 760.1,694.5 757.0,694.9 753.8,695.3 750.7,695.8 747.5,696.3 744.4,696.8 741.2,697.3 738.1,697.9 734.9,698.5 731.8,699.2 728.7,699.9 725.5,700.6 722.4,701.4 719.2,702.2 716.1,703.1 712.9,704.0 709.8,705.0 706.6,706.0 703.5,707.1 700.3,708.3 697.2,709.5 694.1,710.8 690.9,712.2 687.8,713.7 684.6,715.3 681.5,716.9 678.3,718.7 675.2,720.6 672.0,722.5 668.9,724.6 665.7,726.9 662.6,729.2 659.5,731.7 656.3,734.4 653.2,737.2 650.0,740.1 646.9,743.3 643.7,746.7 640.6,750.2 637.4,754.0 634.3,758.0 631.1,762.2 628.0,766.7 624.9,771.4 621.7,776.5 618.6,781.8 615.4,787.5 612.3,793.5 609.1,799.8 606.0,806.6 602.8,813.7 599.7,821.3 596.5,829.4 593.4,837.9" fill="#c9c5c5"/>
<g fill="#827e7e"><polygon points="586.9,648.4 600.5,647.3 608.6,656.6 617.0,662.9 615.1,668.3 603.0,662.9 593.6,654.9"/><circle cx="589.8" cy="650.6" r="5.6"/><circle cx="596.9" cy="649.5" r="5.6"/><circle cx="599.2" cy="648.8" r="5.6"/><circle cx="605.0" cy="655.8" r="5.6"/><circle cx="609.5" cy="657.9" r="5.6"/><circle cx="616.0" cy="663.4" r="5.6"/><circle cx="614.9" cy="665.3" r="5.6"/><circle cx="613.3" cy="665.3" r="5.6"/><circle cx="607.4" cy="664.4" r="5.6"/><circle cx="602.4" cy="659.4" r="5.6"/><circle cx="598.2" cy="655.7" r="5.6"/><circle cx="592.9" cy="652.8" r="5.6"/><polygon points="554.7,688.4 578.9,687.7 580.2,675.0 593.6,673.6 603.0,670.9 615.1,668.3 620.4,668.9 628.5,664.2 633.8,653.5 639.2,662.2 636.5,666.9 645.9,673.6 659.3,677.0 668.7,679.7 678.1,679.7 688.1,675.0 698.2,681.0 707.6,683.0 721.0,685.0 730.4,684.4 731.7,691.1 721.0,695.1 712.9,703.8 687.5,711.2 667.4,721.9 654.0,736.6 641.9,740.7 632.5,752.7 620.3,745.8 603.8,732.3 595.5,723.0 597.5,709.6 588.3,695.1 580.2,692.4 554.7,691.1"/><circle cx="555.1" cy="688.4" r="5.6"/><circle cx="564.6" cy="689.9" r="5.6"/><circle cx="571.9" cy="690.5" r="5.6"/><circle cx="578.9" cy="690.1" r="5.6"/><circle cx="579.6" cy="687.1" r="5.6"/><circle cx="580.3" cy="680.9" r="5.6"/><circle cx="581.1" cy="676.1" r="5.6"/><circle cx="586.8" cy="676.9" r="5.6"/><circle cx="593.2" cy="675.0" r="5.6"/><circle cx="596.6" cy="674.0" r="5.6"/><circle cx="604.8" cy="672.1" r="5.6"/><circle cx="611.7" cy="669.1" r="5.6"/><circle cx="615.6" cy="668.3" r="5.6"/><circle cx="621.6" cy="669.8" r="5.6"/><circle cx="628.8" cy="665.9" r="5.6"/><circle cx="630.6" cy="663.5" r="5.6"/><circle cx="633.3" cy="655.4" r="5.6"/><circle cx="633.6" cy="654.6" r="5.6"/><circle cx="637.5" cy="662.1" r="5.6"/><circle cx="635.9" cy="662.9" r="5.6"/><circle cx="637.2" cy="669.1" r="5.6"/><circle cx="642.8" cy="673.8" r="5.6"/><circle cx="647.1" cy="675.3" r="5.6"/><circle cx="656.0" cy="678.2" r="5.6"/><circle cx="661.8" cy="678.5" r="5.6"/><circle cx="671.5" cy="682.0" r="5.6"/><circle cx="677.2" cy="680.0" r="5.6"/><circle cx="678.6" cy="680.2" r="5.6"/><circle cx="683.9" cy="679.0" r="5.6"/><circle cx="690.2" cy="676.7" r="5.6"/><circle cx="696.6" cy="682.2" r="5.6"/><circle cx="700.2" cy="684.2" r="5.6"/><circle cx="706.1" cy="685.4" r="5.6"/><circle cx="708.6" cy="686.0" r="5.6"/><circle cx="717.6" cy="685.0" r="5.6"/><circle cx="722.6" cy="685.9" r="5.6"/><circle cx="728.5" cy="685.4" r="5.6"/><circle cx="728.9" cy="684.7" r="5.6"/><circle cx="731.3" cy="690.2" r="5.6"/><circle cx="723.8" cy="692.5" r="5.6"/><circle cx="717.4" cy="695.8" r="5.6"/><circle cx="712.4" cy="703.2" r="5.6"/><circle cx="707.1" cy="703.2" r="5.6"/><circle cx="701.6" cy="706.7" r="5.6"/><circle cx="694.4" cy="706.5" r="5.6"/><circle cx="686.6" cy="711.2" r="5.6"/><circle cx="678.0" cy="714.4" r="5.6"/><circle cx="671.4" cy="719.4" r="5.6"/><circle cx="665.1" cy="722.6" r="5.6"/><circle cx="660.4" cy="725.6" r="5.6"/><circle cx="655.4" cy="731.7" r="5.6"/><circle cx="651.5" cy="737.3" r="5.6"/><circle cx="642.7" cy="739.1" r="5.6"/><circle cx="638.8" cy="740.4" r="5.6"/><circle cx="636.8" cy="746.6" r="5.6"/><circle cx="632.0" cy="752.3" r="5.6"/><circle cx="632.2" cy="752.4" r="5.6"/><circle cx="627.4" cy="748.8" r="5.6"/><circle cx="622.5" cy="744.5" r="5.6"/><circle cx="619.5" cy="744.4" r="5.6"/><circle cx="614.1" cy="740.6" r="5.6"/><circle cx="609.3" cy="736.8" r="5.6"/><circle cx="603.1" cy="730.8" r="5.6"/><circle cx="599.9" cy="724.0" r="5.6"/><circle cx="597.1" cy="720.7" r="5.6"/><circle cx="599.3" cy="713.7" r="5.6"/><circle cx="598.3" cy="707.2" r="5.6"/><circle cx="592.4" cy="699.8" r="5.6"/><circle cx="586.8" cy="692.7" r="5.6"/><circle cx="579.2" cy="692.2" r="5.6"/><circle cx="573.6" cy="691.8" r="5.6"/><circle cx="565.3" cy="690.9" r="5.6"/><circle cx="559.6" cy="691.1" r="5.6"/><circle cx="556.6" cy="688.4" r="5.6"/><circle cx="582.9" cy="711.2" r="5.6"/><circle cx="585.6" cy="738.6" r="5.6"/><circle cx="638.5" cy="633.4" r="5.6"/><circle cx="638.5" cy="640.8" r="5.6"/><circle cx="634.5" cy="654.2" r="5.6"/></g>
<g fill="#94a3cf"><polygon points="660.7,734.0 666.0,723.2 678.1,715.9 698.2,707.1 708.3,712.5 688.8,725.2 674.1,732.6 669.4,736.6"/><circle cx="661.7" cy="733.7" r="5.6"/><circle cx="664.5" cy="727.2" r="5.6"/><circle cx="668.1" cy="725.1" r="5.6"/><circle cx="675.5" cy="719.2" r="5.6"/><circle cx="681.1" cy="715.5" r="5.6"/><circle cx="686.8" cy="712.1" r="5.6"/><circle cx="693.5" cy="710.6" r="5.6"/><circle cx="698.1" cy="708.7" r="5.6"/><circle cx="702.8" cy="710.4" r="5.6"/><circle cx="707.4" cy="713.3" r="5.6"/><circle cx="707.7" cy="711.8" r="5.6"/><circle cx="702.2" cy="714.5" r="5.6"/><circle cx="695.8" cy="718.1" r="5.6"/><circle cx="689.2" cy="722.6" r="5.6"/><circle cx="687.4" cy="724.9" r="5.6"/><circle cx="679.1" cy="729.6" r="5.6"/><circle cx="672.5" cy="733.8" r="5.6"/><circle cx="667.3" cy="734.2" r="5.6"/><circle cx="652.6" cy="752.1" r="5.6"/><circle cx="688.8" cy="725.2" r="5.6"/><circle cx="707.6" cy="713.8" r="5.6"/></g>
<polyline points="593.4,537.5 596.5,546.0 599.7,554.1 602.8,561.7 606.0,568.8 609.1,575.6 612.3,581.9 615.4,587.9 618.6,593.6 621.7,598.9 624.9,604.0 628.0,608.7 631.1,613.2 634.3,617.4 637.4,621.4 640.6,625.2 643.7,628.7 646.9,632.1 650.0,635.3 653.2,638.2 656.3,641.0 659.5,643.7 662.6,646.2 665.7,648.5 668.9,650.8 672.0,652.9 675.2,654.8 678.3,656.7 681.5,658.5 684.6,660.1 687.8,661.7 690.9,663.2 694.1,664.6 697.2,665.9 700.3,667.1 703.5,668.3 706.6,669.4 709.8,670.4 712.9,671.4 716.1,672.3 719.2,673.2 722.4,674.0 725.5,674.8 728.7,675.5 731.8,676.2 734.9,676.9 738.1,677.5 741.2,678.1 744.4,678.6 747.5,679.1 750.7,679.6 753.8,680.1 757.0,680.5 760.1,680.9 763.3,681.3 766.4,681.7 769.5,682.0 772.7,682.3 775.8,682.6 779.0,682.9 782.1,683.2 785.3,683.5 788.4,683.7 791.6,683.9 794.7,684.1 797.9,684.3 801.0,684.5 804.1,684.7 807.3,684.9 810.4,685.0 813.6,685.2 816.7,685.3 819.9,685.5 823.0,685.6 826.2,685.7 829.3,685.8 832.5,685.9 835.6,686.0 838.7,686.1 841.9,686.2 845.0,686.3" fill="none" stroke="#4f4a4a" stroke-width="2.3" stroke-linecap="round"/>
<polyline points="593.4,837.9 596.5,829.4 599.7,821.3 602.8,813.7 606.0,806.6 609.1,799.8 612.3,793.5 615.4,787.5 618.6,781.8 621.7,776.5 624.9,771.4 628.0,766.7 631.1,762.2 634.3,758.0 637.4,754.0 640.6,750.2 643.7,746.7 646.9,743.3 650.0,740.1 653.2,737.2 656.3,734.4 659.5,731.7 662.6,729.2 665.7,726.9 668.9,724.6 672.0,722.5 675.2,720.6 678.3,718.7 681.5,716.9 684.6,715.3 687.8,713.7 690.9,712.2 694.1,710.8 697.2,709.5 700.3,708.3 703.5,707.1 706.6,706.0 709.8,705.0 712.9,704.0 716.1,703.1 719.2,702.2 722.4,701.4 725.5,700.6 728.7,699.9 731.8,699.2 734.9,698.5 738.1,697.9 741.2,697.3 744.4,696.8 747.5,696.3 750.7,695.8 753.8,695.3 757.0,694.9 760.1,694.5 763.3,694.1 766.4,693.7 769.5,693.4 772.7,693.1 775.8,692.8 779.0,692.5 782.1,692.2 785.3,691.9 788.4,691.7 791.6,691.5 794.7,691.3 797.9,691.1 801.0,690.9 804.1,690.7 807.3,690.5 810.4,690.4 813.6,690.2 816.7,690.1 819.9,689.9 823.0,689.8 826.2,689.7 829.3,689.6 832.5,689.5 835.6,689.4 838.7,689.3 841.9,689.2 845.0,689.1" fill="none" stroke="#4f4a4a" stroke-width="2.3" stroke-linecap="round"/>
<g fill="#827e7e"><circle cx="805.5" cy="685.8" r="5.6"/><circle cx="805.5" cy="688.3" r="5.6"/></g>
<line x1="545.35" y1="687.70" x2="848.83" y2="687.70" stroke="#ffffff" stroke-width="2.0" opacity="0.22"/>
<line x1="536.40" y1="687.70" x2="857.70" y2="687.70" stroke="#7d7979" stroke-width="2.0" stroke-dasharray="8.3 4.0" style="mix-blend-mode:multiply"/>

<rect x="535.40" y="523.00" width="323.30" height="329.60" fill="none" stroke="#2b2826" stroke-width="1.7"/>
<line x1="527.40" y1="562.00" x2="535.40" y2="562.00" stroke="#2b2826" stroke-width="1.7" />
<text x="504.92" y="573.20" font-size="26.5" text-anchor="start" >6</text>
<line x1="527.40" y1="624.85" x2="535.40" y2="624.85" stroke="#2b2826" stroke-width="1.7" />
<text x="505.11" y="636.05" font-size="26.5" text-anchor="start" >3</text>
<line x1="527.40" y1="687.70" x2="535.40" y2="687.70" stroke="#2b2826" stroke-width="1.7" />
<text x="504.95" y="698.90" font-size="26.5" text-anchor="start" >0</text>
<line x1="527.40" y1="750.55" x2="535.40" y2="750.55" stroke="#2b2826" stroke-width="1.7" />
<text x="500.48" y="761.75" font-size="26.5" text-anchor="start" >-3</text>
<line x1="527.40" y1="813.40" x2="535.40" y2="813.40" stroke="#2b2826" stroke-width="1.7" />
<text x="500.48" y="824.60" font-size="26.5" text-anchor="start" >-6</text>
<line x1="593.40" y1="852.60" x2="593.40" y2="860.60" stroke="#2b2826" stroke-width="1.7" />
<text x="584.55" y="883.30" font-size="26.5" text-anchor="start" >0</text>
<line x1="656.62" y1="852.60" x2="656.62" y2="860.60" stroke="#2b2826" stroke-width="1.7" />
<text x="647.72" y="883.30" font-size="26.5" text-anchor="start" >5</text>
<line x1="719.85" y1="852.60" x2="719.85" y2="860.60" stroke="#2b2826" stroke-width="1.7" />
<text x="703.32" y="883.30" font-size="26.5" text-anchor="start" >10</text>
<line x1="783.07" y1="852.60" x2="783.07" y2="860.60" stroke="#2b2826" stroke-width="1.7" />
<text x="766.37" y="883.30" font-size="26.5" text-anchor="start" >15</text>
<line x1="846.30" y1="852.60" x2="846.30" y2="860.60" stroke="#2b2826" stroke-width="1.7" />
<text x="830.15" y="883.30" font-size="26.5" text-anchor="start" >20</text>
<text x="1033.78" y="513.10" font-size="29.8" text-anchor="start" >10 min</text>
<polygon points="982.5,537.5 985.6,546.0 988.8,554.1 991.9,561.7 995.0,568.8 998.2,575.6 1001.3,581.9 1004.4,587.9 1007.6,593.6 1010.7,598.9 1013.8,604.0 1017.0,608.7 1020.1,613.2 1023.2,617.4 1026.4,621.4 1029.5,625.2 1032.6,628.7 1035.8,632.1 1038.9,635.3 1042.0,638.2 1045.2,641.0 1048.3,643.7 1051.4,646.2 1054.6,648.5 1057.7,650.8 1060.8,652.9 1064.0,654.8 1067.1,656.7 1070.2,658.5 1073.4,660.1 1076.5,661.7 1079.6,663.2 1082.8,664.6 1085.9,665.9 1089.0,667.1 1092.2,668.3 1095.3,669.4 1098.4,670.4 1101.6,671.4 1104.7,672.3 1107.8,673.2 1111.0,674.0 1114.1,674.8 1117.2,675.5 1120.4,676.2 1123.5,676.9 1126.6,677.5 1129.8,678.1 1132.9,678.6 1136.0,679.1 1139.2,679.6 1142.3,680.1 1145.4,680.5 1148.5,680.9 1151.7,681.3 1154.8,681.7 1157.9,682.0 1161.1,682.3 1164.2,682.6 1167.3,682.9 1170.5,683.2 1173.6,683.5 1176.7,683.7 1179.9,683.9 1183.0,684.1 1186.1,684.3 1189.3,684.5 1192.4,684.7 1195.5,684.9 1198.7,685.0 1201.8,685.2 1204.9,685.3 1208.1,685.5 1211.2,685.6 1214.3,685.7 1217.5,685.8 1220.6,685.9 1223.7,686.0 1226.9,686.1 1230.0,686.2 1233.1,686.3 1233.1,689.1 1230.0,689.2 1226.9,689.3 1223.7,689.4 1220.6,689.5 1217.5,689.6 1214.3,689.7 1211.2,689.8 1208.1,689.9 1204.9,690.1 1201.8,690.2 1198.7,690.4 1195.5,690.5 1192.4,690.7 1189.3,690.9 1186.1,691.1 1183.0,691.3 1179.9,691.5 1176.7,691.7 1173.6,691.9 1170.5,692.2 1167.3,692.5 1164.2,692.8 1161.1,693.1 1157.9,693.4 1154.8,693.7 1151.7,694.1 1148.5,694.5 1145.4,694.9 1142.3,695.3 1139.2,695.8 1136.0,696.3 1132.9,696.8 1129.8,697.3 1126.6,697.9 1123.5,698.5 1120.4,699.2 1117.2,699.9 1114.1,700.6 1111.0,701.4 1107.8,702.2 1104.7,703.1 1101.6,704.0 1098.4,705.0 1095.3,706.0 1092.2,707.1 1089.0,708.3 1085.9,709.5 1082.8,710.8 1079.6,712.2 1076.5,713.7 1073.4,715.3 1070.2,716.9 1067.1,718.7 1064.0,720.6 1060.8,722.5 1057.7,724.6 1054.6,726.9 1051.4,729.2 1048.3,731.7 1045.2,734.4 1042.0,737.2 1038.9,740.1 1035.8,743.3 1032.6,746.7 1029.5,750.2 1026.4,754.0 1023.2,758.0 1020.1,762.2 1017.0,766.7 1013.8,771.4 1010.7,776.5 1007.6,781.8 1004.4,787.5 1001.3,793.5 998.2,799.8 995.0,806.6 991.9,813.7 988.8,821.3 985.6,829.4 982.5,837.9" fill="#c9c5c5"/>
<g fill="#827e7e"><polygon points="943.1,691.8 978.0,691.1 979.4,682.1 978.0,670.9 969.6,659.8 969.6,650.0 982.2,647.9 992.0,654.9 1000.3,662.5 1007.3,657.0 1019.9,661.8 1025.4,666.7 1040.8,669.5 1052.0,665.3 1058.9,670.9 1067.3,672.3 1081.2,670.9 1098.0,676.5 1109.2,683.5 1109.2,693.2 1105.0,704.4 1099.4,701.6 1078.5,710.0 1061.7,718.3 1043.6,730.9 1031.0,742.1 1022.7,751.8 1012.9,750.4 1003.1,740.7 992.0,739.3 994.8,723.9 989.2,718.3 980.8,712.8 971.0,712.8 976.6,704.4 979.4,697.4 943.1,693.9"/><circle cx="945.6" cy="692.2" r="5.6"/><circle cx="953.0" cy="693.1" r="5.6"/><circle cx="961.7" cy="693.7" r="5.6"/><circle cx="970.4" cy="692.9" r="5.6"/><circle cx="980.2" cy="689.4" r="5.6"/><circle cx="979.3" cy="683.2" r="5.6"/><circle cx="979.6" cy="681.0" r="5.6"/><circle cx="979.7" cy="672.1" r="5.6"/><circle cx="978.4" cy="668.3" r="5.6"/><circle cx="972.6" cy="663.6" r="5.6"/><circle cx="971.1" cy="657.5" r="5.6"/><circle cx="971.5" cy="650.1" r="5.6"/><circle cx="971.9" cy="650.3" r="5.6"/><circle cx="977.2" cy="649.5" r="5.6"/><circle cx="981.5" cy="649.9" r="5.6"/><circle cx="989.5" cy="654.8" r="5.6"/><circle cx="991.7" cy="657.3" r="5.6"/><circle cx="998.1" cy="662.8" r="5.6"/><circle cx="1000.8" cy="662.7" r="5.6"/><circle cx="1006.6" cy="660.2" r="5.6"/><circle cx="1008.9" cy="657.6" r="5.6"/><circle cx="1013.5" cy="660.2" r="5.6"/><circle cx="1020.2" cy="664.6" r="5.6"/><circle cx="1026.7" cy="668.3" r="5.6"/><circle cx="1033.9" cy="668.6" r="5.6"/><circle cx="1042.3" cy="671.9" r="5.6"/><circle cx="1050.0" cy="666.1" r="5.6"/><circle cx="1052.2" cy="669.0" r="5.6"/><circle cx="1059.6" cy="671.6" r="5.6"/><circle cx="1068.1" cy="673.9" r="5.6"/><circle cx="1073.7" cy="673.1" r="5.6"/><circle cx="1080.9" cy="673.2" r="5.6"/><circle cx="1087.8" cy="675.7" r="5.6"/><circle cx="1096.1" cy="676.5" r="5.6"/><circle cx="1099.2" cy="677.3" r="5.6"/><circle cx="1102.8" cy="681.1" r="5.6"/><circle cx="1108.8" cy="684.4" r="5.6"/><circle cx="1108.3" cy="690.9" r="5.6"/><circle cx="1107.2" cy="692.5" r="5.6"/><circle cx="1105.8" cy="701.3" r="5.6"/><circle cx="1104.2" cy="701.2" r="5.6"/><circle cx="1097.9" cy="701.0" r="5.6"/><circle cx="1088.9" cy="704.0" r="5.6"/><circle cx="1082.9" cy="706.9" r="5.6"/><circle cx="1078.2" cy="709.8" r="5.6"/><circle cx="1070.1" cy="713.2" r="5.6"/><circle cx="1061.9" cy="717.5" r="5.6"/><circle cx="1060.2" cy="718.8" r="5.6"/><circle cx="1053.4" cy="720.8" r="5.6"/><circle cx="1046.3" cy="726.3" r="5.6"/><circle cx="1039.8" cy="730.8" r="5.6"/><circle cx="1034.6" cy="736.2" r="5.6"/><circle cx="1030.7" cy="739.6" r="5.6"/><circle cx="1028.2" cy="742.6" r="5.6"/><circle cx="1025.4" cy="748.5" r="5.6"/><circle cx="1022.5" cy="750.5" r="5.6"/><circle cx="1015.9" cy="750.0" r="5.6"/><circle cx="1011.3" cy="747.8" r="5.6"/><circle cx="1005.8" cy="742.1" r="5.6"/><circle cx="1002.0" cy="740.1" r="5.6"/><circle cx="996.3" cy="739.2" r="5.6"/><circle cx="992.8" cy="737.9" r="5.6"/><circle cx="996.6" cy="729.4" r="5.6"/><circle cx="994.8" cy="723.3" r="5.6"/><circle cx="991.3" cy="719.1" r="5.6"/><circle cx="989.0" cy="717.3" r="5.6"/><circle cx="983.7" cy="711.7" r="5.6"/><circle cx="979.6" cy="711.6" r="5.6"/><circle cx="972.2" cy="711.7" r="5.6"/><circle cx="971.8" cy="713.0" r="5.6"/><circle cx="976.6" cy="705.0" r="5.6"/><circle cx="979.6" cy="703.5" r="5.6"/><circle cx="978.7" cy="696.7" r="5.6"/><circle cx="972.0" cy="695.5" r="5.6"/><circle cx="962.8" cy="693.4" r="5.6"/><circle cx="953.7" cy="694.9" r="5.6"/><circle cx="948.8" cy="692.5" r="5.6"/><circle cx="944.8" cy="692.5" r="5.6"/><circle cx="1014.3" cy="627.4" r="5.6"/><circle cx="1028.0" cy="645.8" r="5.6"/><circle cx="1031.0" cy="655.6" r="5.6"/><circle cx="1038.7" cy="657.0" r="5.6"/><circle cx="1124.5" cy="689.7" r="5.6"/><circle cx="971.0" cy="712.8" r="5.6"/><circle cx="992.0" cy="740.7" r="5.6"/><circle cx="1012.9" cy="750.4" r="5.6"/></g>
<g fill="#94a3cf"><polygon points="1096.6,701.6 1105.0,711.4 1100.8,721.1 1096.6,730.9 1089.6,735.1 1077.1,735.1 1067.3,737.9 1053.3,749.0 1039.4,750.4 1031.0,744.9 1040.8,732.3 1057.5,719.7 1071.5,712.8 1085.4,705.8"/><circle cx="1095.4" cy="704.2" r="5.6"/><circle cx="1101.2" cy="710.7" r="5.6"/><circle cx="1104.4" cy="711.9" r="5.6"/><circle cx="1101.1" cy="716.7" r="5.6"/><circle cx="1097.8" cy="722.9" r="5.6"/><circle cx="1094.0" cy="731.0" r="5.6"/><circle cx="1089.5" cy="732.9" r="5.6"/><circle cx="1083.5" cy="732.5" r="5.6"/><circle cx="1076.1" cy="735.0" r="5.6"/><circle cx="1069.8" cy="735.3" r="5.6"/><circle cx="1066.9" cy="737.9" r="5.6"/><circle cx="1060.3" cy="741.4" r="5.6"/><circle cx="1055.6" cy="746.4" r="5.6"/><circle cx="1053.2" cy="748.2" r="5.6"/><circle cx="1046.0" cy="747.1" r="5.6"/><circle cx="1037.9" cy="747.9" r="5.6"/><circle cx="1032.5" cy="745.0" r="5.6"/><circle cx="1033.0" cy="743.7" r="5.6"/><circle cx="1036.6" cy="740.0" r="5.6"/><circle cx="1041.3" cy="733.5" r="5.6"/><circle cx="1043.9" cy="733.2" r="5.6"/><circle cx="1047.3" cy="727.6" r="5.6"/><circle cx="1053.1" cy="724.5" r="5.6"/><circle cx="1059.1" cy="721.5" r="5.6"/><circle cx="1066.1" cy="717.0" r="5.6"/><circle cx="1072.0" cy="715.5" r="5.6"/><circle cx="1074.0" cy="712.2" r="5.6"/><circle cx="1080.0" cy="710.9" r="5.6"/><circle cx="1085.9" cy="708.5" r="5.6"/><circle cx="1086.2" cy="706.2" r="5.6"/><circle cx="1093.1" cy="704.9" r="5.6"/><circle cx="1021.3" cy="761.6" r="5.6"/></g>

<polyline points="982.5,537.5 985.6,546.0 988.8,554.1 991.9,561.7 995.0,568.8 998.2,575.6 1001.3,581.9 1004.4,587.9 1007.6,593.6 1010.7,598.9 1013.8,604.0 1017.0,608.7 1020.1,613.2 1023.2,617.4 1026.4,621.4 1029.5,625.2 1032.6,628.7 1035.8,632.1 1038.9,635.3 1042.0,638.2 1045.2,641.0 1048.3,643.7 1051.4,646.2 1054.6,648.5 1057.7,650.8 1060.8,652.9 1064.0,654.8 1067.1,656.7 1070.2,658.5 1073.4,660.1 1076.5,661.7 1079.6,663.2 1082.8,664.6 1085.9,665.9 1089.0,667.1 1092.2,668.3 1095.3,669.4 1098.4,670.4 1101.6,671.4 1104.7,672.3 1107.8,673.2 1111.0,674.0 1114.1,674.8 1117.2,675.5 1120.4,676.2 1123.5,676.9 1126.6,677.5 1129.8,678.1 1132.9,678.6 1136.0,679.1 1139.2,679.6 1142.3,680.1 1145.4,680.5 1148.5,680.9 1151.7,681.3 1154.8,681.7 1157.9,682.0 1161.1,682.3 1164.2,682.6 1167.3,682.9 1170.5,683.2 1173.6,683.5 1176.7,683.7 1179.9,683.9 1183.0,684.1 1186.1,684.3 1189.3,684.5 1192.4,684.7 1195.5,684.9 1198.7,685.0 1201.8,685.2 1204.9,685.3 1208.1,685.5 1211.2,685.6 1214.3,685.7 1217.5,685.8 1220.6,685.9 1223.7,686.0 1226.9,686.1 1230.0,686.2 1233.1,686.3" fill="none" stroke="#4f4a4a" stroke-width="2.3" stroke-linecap="round"/>
<polyline points="982.5,837.9 985.6,829.4 988.8,821.3 991.9,813.7 995.0,806.6 998.2,799.8 1001.3,793.5 1004.4,787.5 1007.6,781.8 1010.7,776.5 1013.8,771.4 1017.0,766.7 1020.1,762.2 1023.2,758.0 1026.4,754.0 1029.5,750.2 1032.6,746.7 1035.8,743.3 1038.9,740.1 1042.0,737.2 1045.2,734.4 1048.3,731.7 1051.4,729.2 1054.6,726.9 1057.7,724.6 1060.8,722.5 1064.0,720.6 1067.1,718.7 1070.2,716.9 1073.4,715.3 1076.5,713.7 1079.6,712.2 1082.8,710.8 1085.9,709.5 1089.0,708.3 1092.2,707.1 1095.3,706.0 1098.4,705.0 1101.6,704.0 1104.7,703.1 1107.8,702.2 1111.0,701.4 1114.1,700.6 1117.2,699.9 1120.4,699.2 1123.5,698.5 1126.6,697.9 1129.8,697.3 1132.9,696.8 1136.0,696.3 1139.2,695.8 1142.3,695.3 1145.4,694.9 1148.5,694.5 1151.7,694.1 1154.8,693.7 1157.9,693.4 1161.1,693.1 1164.2,692.8 1167.3,692.5 1170.5,692.2 1173.6,691.9 1176.7,691.7 1179.9,691.5 1183.0,691.3 1186.1,691.1 1189.3,690.9 1192.4,690.7 1195.5,690.5 1198.7,690.4 1201.8,690.2 1204.9,690.1 1208.1,689.9 1211.2,689.8 1214.3,689.7 1217.5,689.6 1220.6,689.5 1223.7,689.4 1226.9,689.3 1230.0,689.2 1233.1,689.1" fill="none" stroke="#4f4a4a" stroke-width="2.3" stroke-linecap="round"/>
<g fill="#827e7e"><circle cx="1193.7" cy="685.8" r="5.6"/><circle cx="1193.7" cy="688.3" r="5.6"/></g>
<line x1="934.64" y1="687.70" x2="1236.92" y2="687.70" stroke="#ffffff" stroke-width="2.0" opacity="0.22"/>
<line x1="924.40" y1="687.70" x2="1245.50" y2="687.70" stroke="#7d7979" stroke-width="2.0" stroke-dasharray="8.3 4.0" style="mix-blend-mode:multiply"/>
<g fill="#f0a30e"><circle cx="1016.7" cy="607.4" r="5.6"/><circle cx="1023.6" cy="618.6" r="5.6"/></g>
<rect x="923.40" y="523.00" width="323.10" height="329.60" fill="none" stroke="#2b2826" stroke-width="1.7"/>
<line x1="915.40" y1="562.00" x2="923.40" y2="562.00" stroke="#2b2826" stroke-width="1.7" />
<text x="895.42" y="571.40" font-size="26.5" text-anchor="start" >6</text>
<line x1="915.40" y1="624.85" x2="923.40" y2="624.85" stroke="#2b2826" stroke-width="1.7" />
<text x="895.61" y="634.25" font-size="26.5" text-anchor="start" >3</text>
<line x1="915.40" y1="687.70" x2="923.40" y2="687.70" stroke="#2b2826" stroke-width="1.7" />
<text x="895.45" y="697.10" font-size="26.5" text-anchor="start" >0</text>
<line x1="915.40" y1="750.55" x2="923.40" y2="750.55" stroke="#2b2826" stroke-width="1.7" />
<text x="890.98" y="759.95" font-size="26.5" text-anchor="start" >-3</text>
<line x1="915.40" y1="813.40" x2="923.40" y2="813.40" stroke="#2b2826" stroke-width="1.7" />
<text x="890.98" y="822.80" font-size="26.5" text-anchor="start" >-6</text>
<line x1="982.50" y1="852.60" x2="982.50" y2="860.60" stroke="#2b2826" stroke-width="1.7" />
<text x="973.65" y="883.30" font-size="26.5" text-anchor="start" >0</text>
<line x1="1045.47" y1="852.60" x2="1045.47" y2="860.60" stroke="#2b2826" stroke-width="1.7" />
<text x="1036.57" y="883.30" font-size="26.5" text-anchor="start" >5</text>
<line x1="1108.45" y1="852.60" x2="1108.45" y2="860.60" stroke="#2b2826" stroke-width="1.7" />
<text x="1091.92" y="883.30" font-size="26.5" text-anchor="start" >10</text>
<line x1="1171.43" y1="852.60" x2="1171.43" y2="860.60" stroke="#2b2826" stroke-width="1.7" />
<text x="1154.72" y="883.30" font-size="26.5" text-anchor="start" >15</text>
<line x1="1234.40" y1="852.60" x2="1234.40" y2="860.60" stroke="#2b2826" stroke-width="1.7" />
<text x="1218.25" y="883.30" font-size="26.5" text-anchor="start" >20</text>
<text x="1413.58" y="513.10" font-size="29.8" text-anchor="start" >15 min</text>
<polygon points="1369.1,537.5 1372.2,546.0 1375.4,554.1 1378.5,561.7 1381.7,568.8 1384.8,575.6 1388.0,581.9 1391.1,587.9 1394.2,593.6 1397.4,598.9 1400.5,604.0 1403.7,608.7 1406.8,613.2 1410.0,617.4 1413.1,621.4 1416.2,625.2 1419.4,628.7 1422.5,632.1 1425.7,635.3 1428.8,638.2 1432.0,641.0 1435.1,643.7 1438.2,646.2 1441.4,648.5 1444.5,650.8 1447.7,652.9 1450.8,654.8 1454.0,656.7 1457.1,658.5 1460.2,660.1 1463.4,661.7 1466.5,663.2 1469.7,664.6 1472.8,665.9 1476.0,667.1 1479.1,668.3 1482.2,669.4 1485.4,670.4 1488.5,671.4 1491.7,672.3 1494.8,673.2 1498.0,674.0 1501.1,674.8 1504.2,675.5 1507.4,676.2 1510.5,676.9 1513.7,677.5 1516.8,678.1 1520.0,678.6 1523.1,679.1 1526.2,679.6 1529.4,680.1 1532.5,680.5 1535.7,680.9 1538.8,681.3 1542.0,681.7 1545.1,682.0 1548.2,682.3 1551.4,682.6 1554.5,682.9 1557.7,683.2 1560.8,683.5 1564.0,683.7 1567.1,683.9 1570.2,684.1 1573.4,684.3 1576.5,684.5 1579.7,684.7 1582.8,684.9 1586.0,685.0 1589.1,685.2 1592.2,685.3 1595.4,685.5 1598.5,685.6 1601.7,685.7 1604.8,685.8 1608.0,685.9 1611.1,686.0 1614.3,686.1 1617.4,686.2 1620.5,686.3 1620.5,689.1 1617.4,689.2 1614.3,689.3 1611.1,689.4 1608.0,689.5 1604.8,689.6 1601.7,689.7 1598.5,689.8 1595.4,689.9 1592.2,690.1 1589.1,690.2 1586.0,690.4 1582.8,690.5 1579.7,690.7 1576.5,690.9 1573.4,691.1 1570.2,691.3 1567.1,691.5 1564.0,691.7 1560.8,691.9 1557.7,692.2 1554.5,692.5 1551.4,692.8 1548.2,693.1 1545.1,693.4 1542.0,693.7 1538.8,694.1 1535.7,694.5 1532.5,694.9 1529.4,695.3 1526.2,695.8 1523.1,696.3 1520.0,696.8 1516.8,697.3 1513.7,697.9 1510.5,698.5 1507.4,699.2 1504.2,699.9 1501.1,700.6 1498.0,701.4 1494.8,702.2 1491.7,703.1 1488.5,704.0 1485.4,705.0 1482.2,706.0 1479.1,707.1 1476.0,708.3 1472.8,709.5 1469.7,710.8 1466.5,712.2 1463.4,713.7 1460.2,715.3 1457.1,716.9 1454.0,718.7 1450.8,720.6 1447.7,722.5 1444.5,724.6 1441.4,726.9 1438.2,729.2 1435.1,731.7 1432.0,734.4 1428.8,737.2 1425.7,740.1 1422.5,743.3 1419.4,746.7 1416.2,750.2 1413.1,754.0 1410.0,758.0 1406.8,762.2 1403.7,766.7 1400.5,771.4 1397.4,776.5 1394.2,781.8 1391.1,787.5 1388.0,793.5 1384.8,799.8 1381.7,806.6 1378.5,813.7 1375.4,821.3 1372.2,829.4 1369.1,837.9" fill="#c9c5c5"/>
<g fill="#827e7e"><polygon points="1344.4,688.1 1369.3,688.1 1372.3,672.2 1384.0,666.4 1403.1,665.6 1416.3,670.0 1426.6,672.2 1439.8,669.3 1456.0,670.8 1469.2,670.0 1488.3,674.4 1495.6,682.5 1496.4,691.3 1491.2,698.7 1476.6,706.0 1458.9,711.9 1439.8,722.2 1426.6,731.0 1417.8,742.7 1406.1,753.0 1398.0,757.4 1384.0,742.7 1376.7,731.0 1370.8,722.2 1370.8,701.6 1369.3,692.8 1344.4,691.3"/><circle cx="1344.8" cy="689.2" r="5.6"/><circle cx="1350.8" cy="690.8" r="5.6"/><circle cx="1356.4" cy="688.3" r="5.6"/><circle cx="1361.7" cy="689.2" r="5.6"/><circle cx="1371.8" cy="685.9" r="5.6"/><circle cx="1374.1" cy="676.6" r="5.6"/><circle cx="1373.9" cy="674.3" r="5.6"/><circle cx="1380.3" cy="668.3" r="5.6"/><circle cx="1385.2" cy="667.4" r="5.6"/><circle cx="1391.7" cy="666.5" r="5.6"/><circle cx="1396.7" cy="666.7" r="5.6"/><circle cx="1405.7" cy="666.9" r="5.6"/><circle cx="1414.5" cy="670.0" r="5.6"/><circle cx="1418.3" cy="672.8" r="5.6"/><circle cx="1425.5" cy="672.1" r="5.6"/><circle cx="1428.3" cy="674.5" r="5.6"/><circle cx="1433.7" cy="671.7" r="5.6"/><circle cx="1439.8" cy="670.5" r="5.6"/><circle cx="1448.3" cy="672.2" r="5.6"/><circle cx="1453.7" cy="670.7" r="5.6"/><circle cx="1458.8" cy="671.3" r="5.6"/><circle cx="1467.2" cy="672.7" r="5.6"/><circle cx="1469.4" cy="672.8" r="5.6"/><circle cx="1477.4" cy="672.7" r="5.6"/><circle cx="1485.4" cy="674.7" r="5.6"/><circle cx="1486.7" cy="675.9" r="5.6"/><circle cx="1493.1" cy="682.4" r="5.6"/><circle cx="1495.0" cy="682.7" r="5.6"/><circle cx="1493.6" cy="689.9" r="5.6"/><circle cx="1495.1" cy="691.9" r="5.6"/><circle cx="1490.6" cy="697.2" r="5.6"/><circle cx="1489.7" cy="696.9" r="5.6"/><circle cx="1482.3" cy="700.6" r="5.6"/><circle cx="1474.5" cy="705.7" r="5.6"/><circle cx="1468.4" cy="707.7" r="5.6"/><circle cx="1460.6" cy="711.1" r="5.6"/><circle cx="1456.6" cy="712.4" r="5.6"/><circle cx="1452.2" cy="715.4" r="5.6"/><circle cx="1445.3" cy="718.2" r="5.6"/><circle cx="1436.1" cy="721.3" r="5.6"/><circle cx="1432.3" cy="726.9" r="5.6"/><circle cx="1427.2" cy="728.9" r="5.6"/><circle cx="1425.3" cy="731.7" r="5.6"/><circle cx="1420.3" cy="736.5" r="5.6"/><circle cx="1414.6" cy="742.4" r="5.6"/><circle cx="1409.9" cy="749.2" r="5.6"/><circle cx="1404.5" cy="752.0" r="5.6"/><circle cx="1398.4" cy="754.8" r="5.6"/><circle cx="1398.0" cy="756.4" r="5.6"/><circle cx="1395.3" cy="751.1" r="5.6"/><circle cx="1389.0" cy="746.6" r="5.6"/><circle cx="1383.7" cy="739.5" r="5.6"/><circle cx="1381.2" cy="733.9" r="5.6"/><circle cx="1375.3" cy="728.4" r="5.6"/><circle cx="1373.0" cy="721.3" r="5.6"/><circle cx="1370.9" cy="719.4" r="5.6"/><circle cx="1371.1" cy="713.1" r="5.6"/><circle cx="1373.5" cy="707.3" r="5.6"/><circle cx="1371.4" cy="698.7" r="5.6"/><circle cx="1368.0" cy="692.0" r="5.6"/><circle cx="1359.7" cy="689.6" r="5.6"/><circle cx="1354.1" cy="690.2" r="5.6"/><circle cx="1346.3" cy="690.8" r="5.6"/><circle cx="1344.9" cy="690.9" r="5.6"/><circle cx="1404.6" cy="624.5" r="5.6"/><circle cx="1354.9" cy="629.4" r="5.6"/><circle cx="1382.3" cy="643.9" r="5.6"/><circle cx="1413.1" cy="642.1" r="5.6"/><circle cx="1422.9" cy="645.1" r="5.6"/><circle cx="1337.0" cy="667.1" r="5.6"/><circle cx="1431.0" cy="659.8" r="5.6"/><circle cx="1436.9" cy="660.5" r="5.6"/><circle cx="1439.1" cy="667.8" r="5.6"/><circle cx="1512.5" cy="684.7" r="5.6"/><circle cx="1359.8" cy="721.4" r="5.6"/><circle cx="1398.0" cy="757.4" r="5.6"/><circle cx="1330.4" cy="688.1" r="5.6"/></g>
<g fill="#94a3cf"><polygon points="1489.8,701.6 1494.2,710.4 1491.2,722.2 1488.3,729.5 1483.9,736.9 1485.4,745.7 1476.6,738.3 1464.8,748.6 1451.6,751.6 1442.8,751.6 1432.5,750.1 1429.6,763.3 1422.2,769.9 1409.0,758.9 1417.8,745.7 1428.1,731.0 1441.3,720.7 1458.9,711.9 1476.6,704.6"/><circle cx="1488.9" cy="704.0" r="5.6"/><circle cx="1493.2" cy="708.5" r="5.6"/><circle cx="1493.2" cy="712.3" r="5.6"/><circle cx="1491.6" cy="718.5" r="5.6"/><circle cx="1490.5" cy="723.6" r="5.6"/><circle cx="1487.6" cy="728.4" r="5.6"/><circle cx="1487.1" cy="731.0" r="5.6"/><circle cx="1482.7" cy="735.1" r="5.6"/><circle cx="1483.2" cy="737.8" r="5.6"/><circle cx="1485.7" cy="743.9" r="5.6"/><circle cx="1480.3" cy="740.0" r="5.6"/><circle cx="1473.6" cy="739.5" r="5.6"/><circle cx="1468.5" cy="742.6" r="5.6"/><circle cx="1465.4" cy="748.1" r="5.6"/><circle cx="1463.1" cy="746.6" r="5.6"/><circle cx="1456.4" cy="748.0" r="5.6"/><circle cx="1451.1" cy="751.5" r="5.6"/><circle cx="1443.6" cy="749.8" r="5.6"/><circle cx="1442.8" cy="749.8" r="5.6"/><circle cx="1436.1" cy="749.2" r="5.6"/><circle cx="1430.9" cy="750.6" r="5.6"/><circle cx="1430.0" cy="759.8" r="5.6"/><circle cx="1425.9" cy="762.9" r="5.6"/><circle cx="1423.1" cy="768.6" r="5.6"/><circle cx="1420.8" cy="767.0" r="5.6"/><circle cx="1417.6" cy="762.7" r="5.6"/><circle cx="1412.4" cy="758.4" r="5.6"/><circle cx="1410.7" cy="757.1" r="5.6"/><circle cx="1415.6" cy="750.1" r="5.6"/><circle cx="1421.2" cy="744.9" r="5.6"/><circle cx="1423.1" cy="739.2" r="5.6"/><circle cx="1427.7" cy="734.1" r="5.6"/><circle cx="1428.8" cy="731.3" r="5.6"/><circle cx="1436.4" cy="727.7" r="5.6"/><circle cx="1440.0" cy="723.8" r="5.6"/><circle cx="1442.5" cy="722.8" r="5.6"/><circle cx="1447.1" cy="719.7" r="5.6"/><circle cx="1453.8" cy="716.4" r="5.6"/><circle cx="1459.3" cy="713.0" r="5.6"/><circle cx="1460.8" cy="713.1" r="5.6"/><circle cx="1467.0" cy="709.8" r="5.6"/><circle cx="1472.0" cy="708.3" r="5.6"/><circle cx="1477.7" cy="706.5" r="5.6"/><circle cx="1485.8" cy="703.8" r="5.6"/><circle cx="1484.6" cy="744.9" r="5.6"/><circle cx="1464.1" cy="748.3" r="5.6"/><circle cx="1406.1" cy="771.8" r="5.6"/><circle cx="1422.2" cy="769.9" r="5.6"/></g>

<polyline points="1369.1,537.5 1372.2,546.0 1375.4,554.1 1378.5,561.7 1381.7,568.8 1384.8,575.6 1388.0,581.9 1391.1,587.9 1394.2,593.6 1397.4,598.9 1400.5,604.0 1403.7,608.7 1406.8,613.2 1410.0,617.4 1413.1,621.4 1416.2,625.2 1419.4,628.7 1422.5,632.1 1425.7,635.3 1428.8,638.2 1432.0,641.0 1435.1,643.7 1438.2,646.2 1441.4,648.5 1444.5,650.8 1447.7,652.9 1450.8,654.8 1454.0,656.7 1457.1,658.5 1460.2,660.1 1463.4,661.7 1466.5,663.2 1469.7,664.6 1472.8,665.9 1476.0,667.1 1479.1,668.3 1482.2,669.4 1485.4,670.4 1488.5,671.4 1491.7,672.3 1494.8,673.2 1498.0,674.0 1501.1,674.8 1504.2,675.5 1507.4,676.2 1510.5,676.9 1513.7,677.5 1516.8,678.1 1520.0,678.6 1523.1,679.1 1526.2,679.6 1529.4,680.1 1532.5,680.5 1535.7,680.9 1538.8,681.3 1542.0,681.7 1545.1,682.0 1548.2,682.3 1551.4,682.6 1554.5,682.9 1557.7,683.2 1560.8,683.5 1564.0,683.7 1567.1,683.9 1570.2,684.1 1573.4,684.3 1576.5,684.5 1579.7,684.7 1582.8,684.9 1586.0,685.0 1589.1,685.2 1592.2,685.3 1595.4,685.5 1598.5,685.6 1601.7,685.7 1604.8,685.8 1608.0,685.9 1611.1,686.0 1614.3,686.1 1617.4,686.2 1620.5,686.3" fill="none" stroke="#4f4a4a" stroke-width="2.3" stroke-linecap="round"/>
<polyline points="1369.1,837.9 1372.2,829.4 1375.4,821.3 1378.5,813.7 1381.7,806.6 1384.8,799.8 1388.0,793.5 1391.1,787.5 1394.2,781.8 1397.4,776.5 1400.5,771.4 1403.7,766.7 1406.8,762.2 1410.0,758.0 1413.1,754.0 1416.2,750.2 1419.4,746.7 1422.5,743.3 1425.7,740.1 1428.8,737.2 1432.0,734.4 1435.1,731.7 1438.2,729.2 1441.4,726.9 1444.5,724.6 1447.7,722.5 1450.8,720.6 1454.0,718.7 1457.1,716.9 1460.2,715.3 1463.4,713.7 1466.5,712.2 1469.7,710.8 1472.8,709.5 1476.0,708.3 1479.1,707.1 1482.2,706.0 1485.4,705.0 1488.5,704.0 1491.7,703.1 1494.8,702.2 1498.0,701.4 1501.1,700.6 1504.2,699.9 1507.4,699.2 1510.5,698.5 1513.7,697.9 1516.8,697.3 1520.0,696.8 1523.1,696.3 1526.2,695.8 1529.4,695.3 1532.5,694.9 1535.7,694.5 1538.8,694.1 1542.0,693.7 1545.1,693.4 1548.2,693.1 1551.4,692.8 1554.5,692.5 1557.7,692.2 1560.8,691.9 1564.0,691.7 1567.1,691.5 1570.2,691.3 1573.4,691.1 1576.5,690.9 1579.7,690.7 1582.8,690.5 1586.0,690.4 1589.1,690.2 1592.2,690.1 1595.4,689.9 1598.5,689.8 1601.7,689.7 1604.8,689.6 1608.0,689.5 1611.1,689.4 1614.3,689.3 1617.4,689.2 1620.5,689.1" fill="none" stroke="#4f4a4a" stroke-width="2.3" stroke-linecap="round"/>
<g fill="#827e7e"><circle cx="1581.0" cy="685.8" r="5.6"/><circle cx="1581.0" cy="688.3" r="5.6"/></g>
<line x1="1321.09" y1="687.70" x2="1624.33" y2="687.70" stroke="#ffffff" stroke-width="2.0" opacity="0.22"/>
<line x1="1311.80" y1="687.70" x2="1632.90" y2="687.70" stroke="#7d7979" stroke-width="2.0" stroke-dasharray="8.3 4.0" style="mix-blend-mode:multiply"/>
<g fill="#f0a30e"><circle cx="1410.0" cy="615.3" r="5.6"/></g>
<rect x="1310.80" y="523.00" width="323.10" height="329.60" fill="none" stroke="#2b2826" stroke-width="1.7"/>
<line x1="1302.80" y1="562.00" x2="1310.80" y2="562.00" stroke="#2b2826" stroke-width="1.7" />
<text x="1283.72" y="571.40" font-size="26.5" text-anchor="start" >6</text>
<line x1="1302.80" y1="624.85" x2="1310.80" y2="624.85" stroke="#2b2826" stroke-width="1.7" />
<text x="1283.91" y="634.25" font-size="26.5" text-anchor="start" >3</text>
<line x1="1302.80" y1="687.70" x2="1310.80" y2="687.70" stroke="#2b2826" stroke-width="1.7" />
<text x="1283.75" y="697.10" font-size="26.5" text-anchor="start" >0</text>
<line x1="1302.80" y1="750.55" x2="1310.80" y2="750.55" stroke="#2b2826" stroke-width="1.7" />
<text x="1279.28" y="759.95" font-size="26.5" text-anchor="start" >-3</text>
<line x1="1302.80" y1="813.40" x2="1310.80" y2="813.40" stroke="#2b2826" stroke-width="1.7" />
<text x="1279.28" y="822.80" font-size="26.5" text-anchor="start" >-6</text>
<line x1="1369.10" y1="852.60" x2="1369.10" y2="860.60" stroke="#2b2826" stroke-width="1.7" />
<text x="1360.25" y="883.30" font-size="26.5" text-anchor="start" >0</text>
<line x1="1432.27" y1="852.60" x2="1432.27" y2="860.60" stroke="#2b2826" stroke-width="1.7" />
<text x="1423.37" y="883.30" font-size="26.5" text-anchor="start" >5</text>
<line x1="1495.45" y1="852.60" x2="1495.45" y2="860.60" stroke="#2b2826" stroke-width="1.7" />
<text x="1478.92" y="883.30" font-size="26.5" text-anchor="start" >10</text>
<line x1="1558.62" y1="852.60" x2="1558.62" y2="860.60" stroke="#2b2826" stroke-width="1.7" />
<text x="1541.92" y="883.30" font-size="26.5" text-anchor="start" >15</text>
<line x1="1621.80" y1="852.60" x2="1621.80" y2="860.60" stroke="#2b2826" stroke-width="1.7" />
<text x="1605.65" y="883.30" font-size="26.5" text-anchor="start" >20</text>
<text x="267.32" y="955.70" font-size="29.8" text-anchor="start" >0 min</text>
<polygon points="201.7,978.5 204.9,987.0 208.1,995.1 211.3,1002.7 214.5,1009.8 217.7,1016.6 220.9,1022.9 224.0,1028.9 227.2,1034.6 230.4,1039.9 233.6,1045.0 236.8,1049.7 240.0,1054.2 243.2,1058.4 246.4,1062.4 249.6,1066.2 252.8,1069.7 256.0,1073.1 259.2,1076.3 262.4,1079.2 265.6,1082.0 268.7,1084.7 271.9,1087.2 275.1,1089.5 278.3,1091.8 281.5,1093.9 284.7,1095.8 287.9,1097.7 291.1,1099.5 294.3,1101.1 297.5,1102.7 300.7,1104.2 303.9,1105.6 307.1,1106.9 310.3,1108.1 313.4,1109.3 316.6,1110.4 319.8,1111.4 323.0,1112.4 326.2,1113.3 329.4,1114.2 332.6,1115.0 335.8,1115.8 339.0,1116.5 342.2,1117.2 345.4,1117.9 348.6,1118.5 351.8,1119.1 354.9,1119.6 358.1,1120.1 361.3,1120.6 364.5,1121.1 367.7,1121.5 370.9,1121.9 374.1,1122.3 377.3,1122.7 380.5,1123.0 383.7,1123.3 386.9,1123.6 390.1,1123.9 393.3,1124.2 396.5,1124.5 399.6,1124.7 402.8,1124.9 406.0,1125.1 409.2,1125.3 412.4,1125.5 415.6,1125.7 418.8,1125.9 422.0,1126.0 425.2,1126.2 428.4,1126.3 431.6,1126.5 434.8,1126.6 438.0,1126.7 441.2,1126.8 444.3,1126.9 447.5,1127.0 450.7,1127.1 453.9,1127.2 457.1,1127.3 457.1,1130.1 453.9,1130.2 450.7,1130.3 447.5,1130.4 444.3,1130.5 441.2,1130.6 438.0,1130.7 434.8,1130.8 431.6,1130.9 428.4,1131.1 425.2,1131.2 422.0,1131.4 418.8,1131.5 415.6,1131.7 412.4,1131.9 409.2,1132.1 406.0,1132.3 402.8,1132.5 399.6,1132.7 396.5,1132.9 393.3,1133.2 390.1,1133.5 386.9,1133.8 383.7,1134.1 380.5,1134.4 377.3,1134.7 374.1,1135.1 370.9,1135.5 367.7,1135.9 364.5,1136.3 361.3,1136.8 358.1,1137.3 354.9,1137.8 351.8,1138.3 348.6,1138.9 345.4,1139.5 342.2,1140.2 339.0,1140.9 335.8,1141.6 332.6,1142.4 329.4,1143.2 326.2,1144.1 323.0,1145.0 319.8,1146.0 316.6,1147.0 313.4,1148.1 310.3,1149.3 307.1,1150.5 303.9,1151.8 300.7,1153.2 297.5,1154.7 294.3,1156.3 291.1,1157.9 287.9,1159.7 284.7,1161.6 281.5,1163.5 278.3,1165.6 275.1,1167.9 271.9,1170.2 268.7,1172.7 265.6,1175.4 262.4,1178.2 259.2,1181.1 256.0,1184.3 252.8,1187.7 249.6,1191.2 246.4,1195.0 243.2,1199.0 240.0,1203.2 236.8,1207.7 233.6,1212.4 230.4,1217.5 227.2,1222.8 224.0,1228.5 220.9,1234.5 217.7,1240.8 214.5,1247.6 211.3,1254.7 208.1,1262.3 204.9,1270.4 201.7,1278.9" fill="#c9c5c5"/>
<g fill="#827e7e"><polygon points="167.4,1135.8 200.9,1135.8 200.9,1106.3 186.2,1102.3 193.6,1092.9 202.3,1091.6 209.0,1092.2 218.4,1091.6 229.1,1090.9 230.4,1100.9 237.1,1107.6 249.9,1103.0 258.6,1104.3 268.0,1109.0 277.4,1113.0 285.4,1115.7 301.5,1117.7 314.9,1120.4 325.6,1121.1 336.4,1119.7 340.4,1127.8 324.3,1135.8 310.9,1136.5 297.5,1137.1 284.1,1141.2 276.0,1142.5 268.0,1146.5 259.9,1153.2 249.2,1155.9 243.8,1161.3 233.1,1157.3 225.1,1155.9 214.4,1153.9 206.3,1143.8 200.9,1141.2 167.4,1138.5"/><circle cx="168.8" cy="1136.1" r="5.6"/><circle cx="174.4" cy="1137.0" r="5.6"/><circle cx="179.8" cy="1137.0" r="5.6"/><circle cx="187.1" cy="1135.9" r="5.6"/><circle cx="195.0" cy="1136.0" r="5.6"/><circle cx="202.4" cy="1133.5" r="5.6"/><circle cx="202.4" cy="1128.2" r="5.6"/><circle cx="203.6" cy="1121.5" r="5.6"/><circle cx="203.3" cy="1115.9" r="5.6"/><circle cx="203.0" cy="1106.4" r="5.6"/><circle cx="201.1" cy="1103.5" r="5.6"/><circle cx="194.1" cy="1101.7" r="5.6"/><circle cx="188.2" cy="1103.3" r="5.6"/><circle cx="192.3" cy="1094.8" r="5.6"/><circle cx="195.9" cy="1093.0" r="5.6"/><circle cx="202.9" cy="1093.9" r="5.6"/><circle cx="208.6" cy="1093.6" r="5.6"/><circle cx="209.7" cy="1092.9" r="5.6"/><circle cx="216.9" cy="1092.6" r="5.6"/><circle cx="218.9" cy="1092.0" r="5.6"/><circle cx="228.2" cy="1092.9" r="5.6"/><circle cx="227.0" cy="1091.7" r="5.6"/><circle cx="228.4" cy="1097.1" r="5.6"/><circle cx="229.5" cy="1103.4" r="5.6"/><circle cx="235.4" cy="1108.2" r="5.6"/><circle cx="238.4" cy="1110.1" r="5.6"/><circle cx="245.2" cy="1105.9" r="5.6"/><circle cx="250.2" cy="1105.8" r="5.6"/><circle cx="258.0" cy="1105.2" r="5.6"/><circle cx="259.6" cy="1105.3" r="5.6"/><circle cx="267.2" cy="1108.7" r="5.6"/><circle cx="268.0" cy="1110.9" r="5.6"/><circle cx="276.7" cy="1114.5" r="5.6"/><circle cx="278.3" cy="1113.3" r="5.6"/><circle cx="283.0" cy="1115.3" r="5.6"/><circle cx="286.5" cy="1117.3" r="5.6"/><circle cx="295.6" cy="1117.3" r="5.6"/><circle cx="303.4" cy="1118.1" r="5.6"/><circle cx="308.1" cy="1120.0" r="5.6"/><circle cx="313.5" cy="1121.1" r="5.6"/><circle cx="316.5" cy="1122.1" r="5.6"/><circle cx="322.4" cy="1122.6" r="5.6"/><circle cx="326.4" cy="1123.6" r="5.6"/><circle cx="332.1" cy="1120.7" r="5.6"/><circle cx="335.0" cy="1122.5" r="5.6"/><circle cx="339.0" cy="1127.6" r="5.6"/><circle cx="334.0" cy="1128.9" r="5.6"/><circle cx="327.6" cy="1133.0" r="5.6"/><circle cx="322.8" cy="1133.2" r="5.6"/><circle cx="314.6" cy="1135.6" r="5.6"/><circle cx="310.7" cy="1135.0" r="5.6"/><circle cx="303.9" cy="1136.2" r="5.6"/><circle cx="298.6" cy="1134.9" r="5.6"/><circle cx="295.1" cy="1135.1" r="5.6"/><circle cx="290.3" cy="1138.7" r="5.6"/><circle cx="282.3" cy="1139.6" r="5.6"/><circle cx="275.2" cy="1142.0" r="5.6"/><circle cx="269.8" cy="1145.5" r="5.6"/><circle cx="264.9" cy="1146.5" r="5.6"/><circle cx="260.8" cy="1149.4" r="5.6"/><circle cx="258.1" cy="1151.6" r="5.6"/><circle cx="251.6" cy="1154.7" r="5.6"/><circle cx="248.6" cy="1156.3" r="5.6"/><circle cx="242.6" cy="1159.5" r="5.6"/><circle cx="242.2" cy="1158.5" r="5.6"/><circle cx="236.2" cy="1156.8" r="5.6"/><circle cx="231.0" cy="1155.4" r="5.6"/><circle cx="223.7" cy="1152.9" r="5.6"/><circle cx="217.8" cy="1152.0" r="5.6"/><circle cx="214.4" cy="1152.9" r="5.6"/><circle cx="210.7" cy="1145.1" r="5.6"/><circle cx="206.5" cy="1141.2" r="5.6"/><circle cx="200.4" cy="1138.6" r="5.6"/><circle cx="192.6" cy="1138.5" r="5.6"/><circle cx="184.7" cy="1137.1" r="5.6"/><circle cx="177.5" cy="1136.9" r="5.6"/><circle cx="169.4" cy="1136.2" r="5.6"/><circle cx="169.0" cy="1136.3" r="5.6"/><circle cx="193.6" cy="1156.6" r="5.6"/><circle cx="203.6" cy="1169.1" r="5.6"/><circle cx="225.7" cy="1178.0" r="5.6"/><circle cx="246.5" cy="1177.4" r="5.6"/><circle cx="235.8" cy="1190.1" r="5.6"/><circle cx="184.2" cy="1115.0" r="5.6"/><circle cx="184.6" cy="1123.7" r="5.6"/><circle cx="217.0" cy="1168.6" r="5.6"/><circle cx="229.1" cy="1168.6" r="5.6"/><circle cx="219.7" cy="1168.0" r="5.6"/><circle cx="223.7" cy="1170.7" r="5.6"/></g>
<polyline points="201.7,978.5 204.9,987.0 208.1,995.1 211.3,1002.7 214.5,1009.8 217.7,1016.6 220.9,1022.9 224.0,1028.9 227.2,1034.6 230.4,1039.9 233.6,1045.0 236.8,1049.7 240.0,1054.2 243.2,1058.4 246.4,1062.4 249.6,1066.2 252.8,1069.7 256.0,1073.1 259.2,1076.3 262.4,1079.2 265.6,1082.0 268.7,1084.7 271.9,1087.2 275.1,1089.5 278.3,1091.8 281.5,1093.9 284.7,1095.8 287.9,1097.7 291.1,1099.5 294.3,1101.1 297.5,1102.7 300.7,1104.2 303.9,1105.6 307.1,1106.9 310.3,1108.1 313.4,1109.3 316.6,1110.4 319.8,1111.4 323.0,1112.4 326.2,1113.3 329.4,1114.2 332.6,1115.0 335.8,1115.8 339.0,1116.5 342.2,1117.2 345.4,1117.9 348.6,1118.5 351.8,1119.1 354.9,1119.6 358.1,1120.1 361.3,1120.6 364.5,1121.1 367.7,1121.5 370.9,1121.9 374.1,1122.3 377.3,1122.7 380.5,1123.0 383.7,1123.3 386.9,1123.6 390.1,1123.9 393.3,1124.2 396.5,1124.5 399.6,1124.7 402.8,1124.9 406.0,1125.1 409.2,1125.3 412.4,1125.5 415.6,1125.7 418.8,1125.9 422.0,1126.0 425.2,1126.2 428.4,1126.3 431.6,1126.5 434.8,1126.6 438.0,1126.7 441.2,1126.8 444.3,1126.9 447.5,1127.0 450.7,1127.1 453.9,1127.2 457.1,1127.3" fill="none" stroke="#4f4a4a" stroke-width="2.3" stroke-linecap="round"/>
<polyline points="201.7,1278.9 204.9,1270.4 208.1,1262.3 211.3,1254.7 214.5,1247.6 217.7,1240.8 220.9,1234.5 224.0,1228.5 227.2,1222.8 230.4,1217.5 233.6,1212.4 236.8,1207.7 240.0,1203.2 243.2,1199.0 246.4,1195.0 249.6,1191.2 252.8,1187.7 256.0,1184.3 259.2,1181.1 262.4,1178.2 265.6,1175.4 268.7,1172.7 271.9,1170.2 275.1,1167.9 278.3,1165.6 281.5,1163.5 284.7,1161.6 287.9,1159.7 291.1,1157.9 294.3,1156.3 297.5,1154.7 300.7,1153.2 303.9,1151.8 307.1,1150.5 310.3,1149.3 313.4,1148.1 316.6,1147.0 319.8,1146.0 323.0,1145.0 326.2,1144.1 329.4,1143.2 332.6,1142.4 335.8,1141.6 339.0,1140.9 342.2,1140.2 345.4,1139.5 348.6,1138.9 351.8,1138.3 354.9,1137.8 358.1,1137.3 361.3,1136.8 364.5,1136.3 367.7,1135.9 370.9,1135.5 374.1,1135.1 377.3,1134.7 380.5,1134.4 383.7,1134.1 386.9,1133.8 390.1,1133.5 393.3,1133.2 396.5,1132.9 399.6,1132.7 402.8,1132.5 406.0,1132.3 409.2,1132.1 412.4,1131.9 415.6,1131.7 418.8,1131.5 422.0,1131.4 425.2,1131.2 428.4,1131.1 431.6,1130.9 434.8,1130.8 438.0,1130.7 441.2,1130.6 444.3,1130.5 447.5,1130.4 450.7,1130.3 453.9,1130.2 457.1,1130.1" fill="none" stroke="#4f4a4a" stroke-width="2.3" stroke-linecap="round"/>
<g fill="#827e7e"><circle cx="416.9" cy="1126.8" r="5.6"/><circle cx="416.9" cy="1129.3" r="5.6"/></g>
<line x1="152.93" y1="1128.70" x2="460.97" y2="1128.70" stroke="#ffffff" stroke-width="2.0" opacity="0.22"/>
<line x1="148.50" y1="1128.70" x2="469.40" y2="1128.70" stroke="#7d7979" stroke-width="2.0" stroke-dasharray="8.3 4.0" style="mix-blend-mode:multiply"/>

<rect x="147.50" y="964.00" width="322.90" height="329.30" fill="none" stroke="#2b2826" stroke-width="1.7"/>
<line x1="139.50" y1="1003.00" x2="147.50" y2="1003.00" stroke="#2b2826" stroke-width="1.7" />
<text x="115.52" y="1010.90" font-size="26.5" text-anchor="start" >6</text>
<line x1="139.50" y1="1065.85" x2="147.50" y2="1065.85" stroke="#2b2826" stroke-width="1.7" />
<text x="115.71" y="1073.75" font-size="26.5" text-anchor="start" >3</text>
<line x1="139.50" y1="1128.70" x2="147.50" y2="1128.70" stroke="#2b2826" stroke-width="1.7" />
<text x="115.55" y="1136.60" font-size="26.5" text-anchor="start" >0</text>
<line x1="139.50" y1="1191.55" x2="147.50" y2="1191.55" stroke="#2b2826" stroke-width="1.7" />
<text x="111.08" y="1199.45" font-size="26.5" text-anchor="start" >-3</text>
<line x1="139.50" y1="1254.40" x2="147.50" y2="1254.40" stroke="#2b2826" stroke-width="1.7" />
<text x="111.08" y="1262.30" font-size="26.5" text-anchor="start" >-6</text>
<line x1="201.70" y1="1293.30" x2="201.70" y2="1301.30" stroke="#2b2826" stroke-width="1.7" />
<text x="191.65" y="1323.70" font-size="26.5" text-anchor="start" >0</text>
<line x1="265.88" y1="1293.30" x2="265.88" y2="1301.30" stroke="#2b2826" stroke-width="1.7" />
<text x="255.77" y="1323.70" font-size="26.5" text-anchor="start" >5</text>
<line x1="330.05" y1="1293.30" x2="330.05" y2="1301.30" stroke="#2b2826" stroke-width="1.7" />
<text x="312.32" y="1323.70" font-size="26.5" text-anchor="start" >10</text>
<line x1="394.22" y1="1293.30" x2="394.22" y2="1301.30" stroke="#2b2826" stroke-width="1.7" />
<text x="376.32" y="1323.70" font-size="26.5" text-anchor="start" >15</text>
<line x1="458.40" y1="1293.30" x2="458.40" y2="1301.30" stroke="#2b2826" stroke-width="1.7" />
<text x="441.05" y="1323.70" font-size="26.5" text-anchor="start" >20</text>
<text x="654.15" y="955.70" font-size="29.8" text-anchor="start" >5 min</text>
<polygon points="591.9,978.5 595.1,987.0 598.2,995.1 601.4,1002.7 604.6,1009.8 607.7,1016.6 610.9,1022.9 614.0,1028.9 617.2,1034.6 620.4,1039.9 623.5,1045.0 626.7,1049.7 629.9,1054.2 633.0,1058.4 636.2,1062.4 639.4,1066.2 642.5,1069.7 645.7,1073.1 648.9,1076.3 652.0,1079.2 655.2,1082.0 658.3,1084.7 661.5,1087.2 664.7,1089.5 667.8,1091.8 671.0,1093.9 674.2,1095.8 677.3,1097.7 680.5,1099.5 683.7,1101.1 686.8,1102.7 690.0,1104.2 693.2,1105.6 696.3,1106.9 699.5,1108.1 702.6,1109.3 705.8,1110.4 709.0,1111.4 712.1,1112.4 715.3,1113.3 718.5,1114.2 721.6,1115.0 724.8,1115.8 728.0,1116.5 731.1,1117.2 734.3,1117.9 737.4,1118.5 740.6,1119.1 743.8,1119.6 746.9,1120.1 750.1,1120.6 753.3,1121.1 756.4,1121.5 759.6,1121.9 762.8,1122.3 765.9,1122.7 769.1,1123.0 772.3,1123.3 775.4,1123.6 778.6,1123.9 781.7,1124.2 784.9,1124.5 788.1,1124.7 791.2,1124.9 794.4,1125.1 797.6,1125.3 800.7,1125.5 803.9,1125.7 807.1,1125.9 810.2,1126.0 813.4,1126.2 816.6,1126.3 819.7,1126.5 822.9,1126.6 826.0,1126.7 829.2,1126.8 832.4,1126.9 835.5,1127.0 838.7,1127.1 841.9,1127.2 845.0,1127.3 845.0,1130.1 841.9,1130.2 838.7,1130.3 835.5,1130.4 832.4,1130.5 829.2,1130.6 826.0,1130.7 822.9,1130.8 819.7,1130.9 816.6,1131.1 813.4,1131.2 810.2,1131.4 807.1,1131.5 803.9,1131.7 800.7,1131.9 797.6,1132.1 794.4,1132.3 791.2,1132.5 788.1,1132.7 784.9,1132.9 781.7,1133.2 778.6,1133.5 775.4,1133.8 772.3,1134.1 769.1,1134.4 765.9,1134.7 762.8,1135.1 759.6,1135.5 756.4,1135.9 753.3,1136.3 750.1,1136.8 746.9,1137.3 743.8,1137.8 740.6,1138.3 737.4,1138.9 734.3,1139.5 731.1,1140.2 728.0,1140.9 724.8,1141.6 721.6,1142.4 718.5,1143.2 715.3,1144.1 712.1,1145.0 709.0,1146.0 705.8,1147.0 702.6,1148.1 699.5,1149.3 696.3,1150.5 693.2,1151.8 690.0,1153.2 686.8,1154.7 683.7,1156.3 680.5,1157.9 677.3,1159.7 674.2,1161.6 671.0,1163.5 667.8,1165.6 664.7,1167.9 661.5,1170.2 658.3,1172.7 655.2,1175.4 652.0,1178.2 648.9,1181.1 645.7,1184.3 642.5,1187.7 639.4,1191.2 636.2,1195.0 633.0,1199.0 629.9,1203.2 626.7,1207.7 623.5,1212.4 620.4,1217.5 617.2,1222.8 614.0,1228.5 610.9,1234.5 607.7,1240.8 604.6,1247.6 601.4,1254.7 598.2,1262.3 595.1,1270.4 591.9,1278.9" fill="#c9c5c5"/>
<g fill="#827e7e"><polygon points="554.7,1128.3 578.9,1127.6 580.2,1118.3 586.9,1106.9 586.3,1094.1 590.9,1088.8 600.3,1088.8 608.4,1092.8 616.4,1096.8 626.5,1100.2 636.5,1106.2 643.2,1107.5 655.3,1112.2 660.7,1115.6 672.7,1118.9 684.1,1116.3 688.8,1121.6 700.9,1122.3 708.9,1123.0 719.6,1125.0 730.4,1127.0 730.4,1130.3 721.0,1135.7 708.9,1138.4 702.2,1139.7 687.5,1138.4 674.1,1139.7 663.3,1145.1 654.0,1150.4 647.3,1162.5 633.8,1165.9 619.1,1165.9 604.4,1166.5 603.0,1161.2 600.3,1147.8 597.6,1137.0 590.9,1131.7 578.9,1131.7 554.7,1129.7"/><circle cx="555.4" cy="1130.0" r="5.6"/><circle cx="560.8" cy="1130.7" r="5.6"/><circle cx="566.4" cy="1128.1" r="5.6"/><circle cx="571.9" cy="1130.4" r="5.6"/><circle cx="578.4" cy="1128.1" r="5.6"/><circle cx="580.8" cy="1127.8" r="5.6"/><circle cx="581.9" cy="1120.0" r="5.6"/><circle cx="581.7" cy="1118.9" r="5.6"/><circle cx="585.7" cy="1113.5" r="5.6"/><circle cx="587.0" cy="1104.2" r="5.6"/><circle cx="588.9" cy="1095.2" r="5.6"/><circle cx="586.9" cy="1094.3" r="5.6"/><circle cx="590.2" cy="1089.8" r="5.6"/><circle cx="593.4" cy="1090.5" r="5.6"/><circle cx="601.7" cy="1090.3" r="5.6"/><circle cx="606.8" cy="1092.3" r="5.6"/><circle cx="608.5" cy="1093.9" r="5.6"/><circle cx="615.1" cy="1096.2" r="5.6"/><circle cx="616.6" cy="1099.0" r="5.6"/><circle cx="623.3" cy="1100.0" r="5.6"/><circle cx="626.5" cy="1103.0" r="5.6"/><circle cx="634.4" cy="1105.0" r="5.6"/><circle cx="637.4" cy="1108.6" r="5.6"/><circle cx="644.7" cy="1109.7" r="5.6"/><circle cx="649.9" cy="1112.7" r="5.6"/><circle cx="657.1" cy="1113.9" r="5.6"/><circle cx="660.7" cy="1117.8" r="5.6"/><circle cx="670.3" cy="1118.3" r="5.6"/><circle cx="674.7" cy="1120.8" r="5.6"/><circle cx="680.2" cy="1118.6" r="5.6"/><circle cx="685.2" cy="1118.6" r="5.6"/><circle cx="689.6" cy="1122.3" r="5.6"/><circle cx="697.7" cy="1123.5" r="5.6"/><circle cx="702.8" cy="1122.7" r="5.6"/><circle cx="710.6" cy="1125.5" r="5.6"/><circle cx="718.5" cy="1125.8" r="5.6"/><circle cx="720.4" cy="1127.6" r="5.6"/><circle cx="725.6" cy="1128.6" r="5.6"/><circle cx="729.6" cy="1127.6" r="5.6"/><circle cx="728.5" cy="1130.2" r="5.6"/><circle cx="720.9" cy="1135.0" r="5.6"/><circle cx="719.0" cy="1134.0" r="5.6"/><circle cx="710.9" cy="1136.1" r="5.6"/><circle cx="707.9" cy="1138.1" r="5.6"/><circle cx="700.4" cy="1137.5" r="5.6"/><circle cx="694.6" cy="1137.8" r="5.6"/><circle cx="685.7" cy="1138.2" r="5.6"/><circle cx="678.5" cy="1136.8" r="5.6"/><circle cx="673.2" cy="1139.2" r="5.6"/><circle cx="665.2" cy="1141.5" r="5.6"/><circle cx="662.6" cy="1144.7" r="5.6"/><circle cx="656.6" cy="1147.2" r="5.6"/><circle cx="653.0" cy="1151.0" r="5.6"/><circle cx="647.1" cy="1158.5" r="5.6"/><circle cx="644.4" cy="1162.9" r="5.6"/><circle cx="637.3" cy="1162.2" r="5.6"/><circle cx="631.6" cy="1164.6" r="5.6"/><circle cx="625.8" cy="1164.1" r="5.6"/><circle cx="620.3" cy="1165.3" r="5.6"/><circle cx="618.9" cy="1164.7" r="5.6"/><circle cx="610.4" cy="1164.3" r="5.6"/><circle cx="605.2" cy="1164.4" r="5.6"/><circle cx="603.8" cy="1159.2" r="5.6"/><circle cx="603.5" cy="1150.7" r="5.6"/><circle cx="601.9" cy="1145.6" r="5.6"/><circle cx="598.9" cy="1139.2" r="5.6"/><circle cx="596.9" cy="1133.7" r="5.6"/><circle cx="588.4" cy="1129.8" r="5.6"/><circle cx="580.5" cy="1130.4" r="5.6"/><circle cx="577.0" cy="1131.2" r="5.6"/><circle cx="570.3" cy="1128.8" r="5.6"/><circle cx="562.1" cy="1128.5" r="5.6"/><circle cx="556.0" cy="1128.6" r="5.6"/><circle cx="580.9" cy="1148.4" r="5.6"/><circle cx="601.7" cy="1176.6" r="5.6"/><circle cx="600.3" cy="1147.8" r="5.6"/></g>

<polyline points="591.9,978.5 595.1,987.0 598.2,995.1 601.4,1002.7 604.6,1009.8 607.7,1016.6 610.9,1022.9 614.0,1028.9 617.2,1034.6 620.4,1039.9 623.5,1045.0 626.7,1049.7 629.9,1054.2 633.0,1058.4 636.2,1062.4 639.4,1066.2 642.5,1069.7 645.7,1073.1 648.9,1076.3 652.0,1079.2 655.2,1082.0 658.3,1084.7 661.5,1087.2 664.7,1089.5 667.8,1091.8 671.0,1093.9 674.2,1095.8 677.3,1097.7 680.5,1099.5 683.7,1101.1 686.8,1102.7 690.0,1104.2 693.2,1105.6 696.3,1106.9 699.5,1108.1 702.6,1109.3 705.8,1110.4 709.0,1111.4 712.1,1112.4 715.3,1113.3 718.5,1114.2 721.6,1115.0 724.8,1115.8 728.0,1116.5 731.1,1117.2 734.3,1117.9 737.4,1118.5 740.6,1119.1 743.8,1119.6 746.9,1120.1 750.1,1120.6 753.3,1121.1 756.4,1121.5 759.6,1121.9 762.8,1122.3 765.9,1122.7 769.1,1123.0 772.3,1123.3 775.4,1123.6 778.6,1123.9 781.7,1124.2 784.9,1124.5 788.1,1124.7 791.2,1124.9 794.4,1125.1 797.6,1125.3 800.7,1125.5 803.9,1125.7 807.1,1125.9 810.2,1126.0 813.4,1126.2 816.6,1126.3 819.7,1126.5 822.9,1126.6 826.0,1126.7 829.2,1126.8 832.4,1126.9 835.5,1127.0 838.7,1127.1 841.9,1127.2 845.0,1127.3" fill="none" stroke="#4f4a4a" stroke-width="2.3" stroke-linecap="round"/>
<polyline points="591.9,1278.9 595.1,1270.4 598.2,1262.3 601.4,1254.7 604.6,1247.6 607.7,1240.8 610.9,1234.5 614.0,1228.5 617.2,1222.8 620.4,1217.5 623.5,1212.4 626.7,1207.7 629.9,1203.2 633.0,1199.0 636.2,1195.0 639.4,1191.2 642.5,1187.7 645.7,1184.3 648.9,1181.1 652.0,1178.2 655.2,1175.4 658.3,1172.7 661.5,1170.2 664.7,1167.9 667.8,1165.6 671.0,1163.5 674.2,1161.6 677.3,1159.7 680.5,1157.9 683.7,1156.3 686.8,1154.7 690.0,1153.2 693.2,1151.8 696.3,1150.5 699.5,1149.3 702.6,1148.1 705.8,1147.0 709.0,1146.0 712.1,1145.0 715.3,1144.1 718.5,1143.2 721.6,1142.4 724.8,1141.6 728.0,1140.9 731.1,1140.2 734.3,1139.5 737.4,1138.9 740.6,1138.3 743.8,1137.8 746.9,1137.3 750.1,1136.8 753.3,1136.3 756.4,1135.9 759.6,1135.5 762.8,1135.1 765.9,1134.7 769.1,1134.4 772.3,1134.1 775.4,1133.8 778.6,1133.5 781.7,1133.2 784.9,1132.9 788.1,1132.7 791.2,1132.5 794.4,1132.3 797.6,1132.1 800.7,1131.9 803.9,1131.7 807.1,1131.5 810.2,1131.4 813.4,1131.2 816.6,1131.1 819.7,1130.9 822.9,1130.8 826.0,1130.7 829.2,1130.6 832.4,1130.5 835.5,1130.4 838.7,1130.3 841.9,1130.2 845.0,1130.1" fill="none" stroke="#4f4a4a" stroke-width="2.3" stroke-linecap="round"/>
<g fill="#827e7e"><circle cx="805.2" cy="1126.8" r="5.6"/><circle cx="805.2" cy="1129.3" r="5.6"/></g>
<line x1="543.56" y1="1128.70" x2="848.84" y2="1128.70" stroke="#ffffff" stroke-width="2.0" opacity="0.22"/>
<line x1="535.90" y1="1128.70" x2="857.20" y2="1128.70" stroke="#7d7979" stroke-width="2.0" stroke-dasharray="8.3 4.0" style="mix-blend-mode:multiply"/>
<g fill="#f0a30e"><circle cx="720.7" cy="1105.1" r="5.6"/><circle cx="721.3" cy="1106.9" r="5.6"/></g>
<rect x="534.90" y="964.00" width="323.30" height="329.30" fill="none" stroke="#2b2826" stroke-width="1.7"/>
<line x1="526.90" y1="1003.00" x2="534.90" y2="1003.00" stroke="#2b2826" stroke-width="1.7" />
<text x="504.62" y="1011.90" font-size="26.5" text-anchor="start" >6</text>
<line x1="526.90" y1="1065.85" x2="534.90" y2="1065.85" stroke="#2b2826" stroke-width="1.7" />
<text x="504.81" y="1074.75" font-size="26.5" text-anchor="start" >3</text>
<line x1="526.90" y1="1128.70" x2="534.90" y2="1128.70" stroke="#2b2826" stroke-width="1.7" />
<text x="504.65" y="1137.60" font-size="26.5" text-anchor="start" >0</text>
<line x1="526.90" y1="1191.55" x2="534.90" y2="1191.55" stroke="#2b2826" stroke-width="1.7" />
<text x="500.18" y="1200.45" font-size="26.5" text-anchor="start" >-3</text>
<line x1="526.90" y1="1254.40" x2="534.90" y2="1254.40" stroke="#2b2826" stroke-width="1.7" />
<text x="500.18" y="1263.30" font-size="26.5" text-anchor="start" >-6</text>
<line x1="591.90" y1="1293.30" x2="591.90" y2="1301.30" stroke="#2b2826" stroke-width="1.7" />
<text x="581.85" y="1323.70" font-size="26.5" text-anchor="start" >0</text>
<line x1="655.50" y1="1293.30" x2="655.50" y2="1301.30" stroke="#2b2826" stroke-width="1.7" />
<text x="645.39" y="1323.70" font-size="26.5" text-anchor="start" >5</text>
<line x1="719.10" y1="1293.30" x2="719.10" y2="1301.30" stroke="#2b2826" stroke-width="1.7" />
<text x="701.37" y="1323.70" font-size="26.5" text-anchor="start" >10</text>
<line x1="782.70" y1="1293.30" x2="782.70" y2="1301.30" stroke="#2b2826" stroke-width="1.7" />
<text x="764.80" y="1323.70" font-size="26.5" text-anchor="start" >15</text>
<line x1="846.30" y1="1293.30" x2="846.30" y2="1301.30" stroke="#2b2826" stroke-width="1.7" />
<text x="828.95" y="1323.70" font-size="26.5" text-anchor="start" >20</text>
<text x="1033.08" y="955.70" font-size="29.8" text-anchor="start" >10 min</text>
<polygon points="979.7,978.5 982.9,987.0 986.0,995.1 989.2,1002.7 992.3,1009.8 995.5,1016.6 998.7,1022.9 1001.8,1028.9 1005.0,1034.6 1008.1,1039.9 1011.3,1045.0 1014.5,1049.7 1017.6,1054.2 1020.8,1058.4 1023.9,1062.4 1027.1,1066.2 1030.2,1069.7 1033.4,1073.1 1036.6,1076.3 1039.7,1079.2 1042.9,1082.0 1046.0,1084.7 1049.2,1087.2 1052.4,1089.5 1055.5,1091.8 1058.7,1093.9 1061.8,1095.8 1065.0,1097.7 1068.2,1099.5 1071.3,1101.1 1074.5,1102.7 1077.6,1104.2 1080.8,1105.6 1084.0,1106.9 1087.1,1108.1 1090.3,1109.3 1093.4,1110.4 1096.6,1111.4 1099.7,1112.4 1102.9,1113.3 1106.1,1114.2 1109.2,1115.0 1112.4,1115.8 1115.5,1116.5 1118.7,1117.2 1121.9,1117.9 1125.0,1118.5 1128.2,1119.1 1131.3,1119.6 1134.5,1120.1 1137.7,1120.6 1140.8,1121.1 1144.0,1121.5 1147.1,1121.9 1150.3,1122.3 1153.5,1122.7 1156.6,1123.0 1159.8,1123.3 1162.9,1123.6 1166.1,1123.9 1169.2,1124.2 1172.4,1124.5 1175.6,1124.7 1178.7,1124.9 1181.9,1125.1 1185.0,1125.3 1188.2,1125.5 1191.4,1125.7 1194.5,1125.9 1197.7,1126.0 1200.8,1126.2 1204.0,1126.3 1207.2,1126.5 1210.3,1126.6 1213.5,1126.7 1216.6,1126.8 1219.8,1126.9 1223.0,1127.0 1226.1,1127.1 1229.3,1127.2 1232.4,1127.3 1232.4,1130.1 1229.3,1130.2 1226.1,1130.3 1223.0,1130.4 1219.8,1130.5 1216.6,1130.6 1213.5,1130.7 1210.3,1130.8 1207.2,1130.9 1204.0,1131.1 1200.8,1131.2 1197.7,1131.4 1194.5,1131.5 1191.4,1131.7 1188.2,1131.9 1185.0,1132.1 1181.9,1132.3 1178.7,1132.5 1175.6,1132.7 1172.4,1132.9 1169.2,1133.2 1166.1,1133.5 1162.9,1133.8 1159.8,1134.1 1156.6,1134.4 1153.5,1134.7 1150.3,1135.1 1147.1,1135.5 1144.0,1135.9 1140.8,1136.3 1137.7,1136.8 1134.5,1137.3 1131.3,1137.8 1128.2,1138.3 1125.0,1138.9 1121.9,1139.5 1118.7,1140.2 1115.5,1140.9 1112.4,1141.6 1109.2,1142.4 1106.1,1143.2 1102.9,1144.1 1099.7,1145.0 1096.6,1146.0 1093.4,1147.0 1090.3,1148.1 1087.1,1149.3 1084.0,1150.5 1080.8,1151.8 1077.6,1153.2 1074.5,1154.7 1071.3,1156.3 1068.2,1157.9 1065.0,1159.7 1061.8,1161.6 1058.7,1163.5 1055.5,1165.6 1052.4,1167.9 1049.2,1170.2 1046.0,1172.7 1042.9,1175.4 1039.7,1178.2 1036.6,1181.1 1033.4,1184.3 1030.2,1187.7 1027.1,1191.2 1023.9,1195.0 1020.8,1199.0 1017.6,1203.2 1014.5,1207.7 1011.3,1212.4 1008.1,1217.5 1005.0,1222.8 1001.8,1228.5 998.7,1234.5 995.5,1240.8 992.3,1247.6 989.2,1254.7 986.0,1262.3 982.9,1270.4 979.7,1278.9" fill="#c9c5c5"/>
<g fill="#827e7e"><polygon points="942.4,1123.0 978.6,1122.3 975.9,1101.6 986.0,1090.2 990.7,1088.8 998.1,1092.2 1006.8,1092.2 1017.5,1098.9 1026.9,1106.9 1037.6,1105.6 1049.7,1113.0 1057.7,1115.0 1067.1,1119.0 1077.8,1120.3 1088.6,1125.7 1099.3,1125.7 1118.1,1125.7 1120.7,1129.7 1119.4,1132.4 1099.3,1135.1 1077.8,1135.1 1065.8,1137.1 1055.0,1139.1 1041.6,1144.5 1028.2,1156.5 1016.2,1156.5 1005.4,1156.5 997.4,1152.5 986.7,1143.8 984.0,1136.4 981.3,1129.7 942.4,1125.7"/><circle cx="943.7" cy="1124.9" r="5.6"/><circle cx="952.9" cy="1123.3" r="5.6"/><circle cx="960.8" cy="1124.8" r="5.6"/><circle cx="967.6" cy="1123.9" r="5.6"/><circle cx="976.9" cy="1122.5" r="5.6"/><circle cx="980.7" cy="1121.6" r="5.6"/><circle cx="978.8" cy="1112.5" r="5.6"/><circle cx="978.3" cy="1107.1" r="5.6"/><circle cx="978.4" cy="1100.9" r="5.6"/><circle cx="984.3" cy="1095.6" r="5.6"/><circle cx="987.9" cy="1092.4" r="5.6"/><circle cx="992.1" cy="1090.7" r="5.6"/><circle cx="998.4" cy="1094.9" r="5.6"/><circle cx="1005.0" cy="1092.3" r="5.6"/><circle cx="1007.8" cy="1092.8" r="5.6"/><circle cx="1013.0" cy="1097.5" r="5.6"/><circle cx="1017.8" cy="1100.1" r="5.6"/><circle cx="1021.5" cy="1105.1" r="5.6"/><circle cx="1028.5" cy="1107.3" r="5.6"/><circle cx="1037.1" cy="1106.7" r="5.6"/><circle cx="1036.8" cy="1107.6" r="5.6"/><circle cx="1044.4" cy="1111.8" r="5.6"/><circle cx="1051.2" cy="1114.0" r="5.6"/><circle cx="1058.0" cy="1117.0" r="5.6"/><circle cx="1065.8" cy="1120.9" r="5.6"/><circle cx="1067.8" cy="1120.6" r="5.6"/><circle cx="1073.2" cy="1122.1" r="5.6"/><circle cx="1079.8" cy="1122.1" r="5.6"/><circle cx="1085.8" cy="1125.1" r="5.6"/><circle cx="1089.1" cy="1125.7" r="5.6"/><circle cx="1097.4" cy="1126.5" r="5.6"/><circle cx="1100.2" cy="1127.0" r="5.6"/><circle cx="1107.1" cy="1127.5" r="5.6"/><circle cx="1115.1" cy="1126.7" r="5.6"/><circle cx="1119.3" cy="1127.9" r="5.6"/><circle cx="1117.6" cy="1131.2" r="5.6"/><circle cx="1116.7" cy="1131.0" r="5.6"/><circle cx="1111.9" cy="1133.4" r="5.6"/><circle cx="1102.5" cy="1132.8" r="5.6"/><circle cx="1099.0" cy="1134.7" r="5.6"/><circle cx="1092.9" cy="1132.9" r="5.6"/><circle cx="1086.4" cy="1134.6" r="5.6"/><circle cx="1075.4" cy="1135.0" r="5.6"/><circle cx="1066.3" cy="1135.3" r="5.6"/><circle cx="1063.3" cy="1135.0" r="5.6"/><circle cx="1055.0" cy="1136.7" r="5.6"/><circle cx="1052.6" cy="1138.5" r="5.6"/><circle cx="1044.9" cy="1141.8" r="5.6"/><circle cx="1039.9" cy="1145.0" r="5.6"/><circle cx="1035.6" cy="1149.3" r="5.6"/><circle cx="1030.4" cy="1154.3" r="5.6"/><circle cx="1027.8" cy="1155.2" r="5.6"/><circle cx="1020.6" cy="1155.0" r="5.6"/><circle cx="1016.1" cy="1154.2" r="5.6"/><circle cx="1009.0" cy="1155.0" r="5.6"/><circle cx="1003.7" cy="1154.5" r="5.6"/><circle cx="995.3" cy="1150.5" r="5.6"/><circle cx="990.2" cy="1144.3" r="5.6"/><circle cx="987.8" cy="1141.4" r="5.6"/><circle cx="986.2" cy="1134.5" r="5.6"/><circle cx="980.1" cy="1127.1" r="5.6"/><circle cx="974.9" cy="1127.0" r="5.6"/><circle cx="967.1" cy="1127.3" r="5.6"/><circle cx="958.2" cy="1126.3" r="5.6"/><circle cx="951.2" cy="1125.1" r="5.6"/><circle cx="942.7" cy="1125.1" r="5.6"/><circle cx="944.0" cy="1124.4" r="5.6"/><circle cx="965.6" cy="1081.5" r="5.6"/><circle cx="964.5" cy="1102.9" r="5.6"/><circle cx="974.3" cy="1144.5" r="5.6"/><circle cx="971.3" cy="1159.2" r="5.6"/><circle cx="994.7" cy="1172.6" r="5.6"/><circle cx="998.1" cy="1164.6" r="5.6"/></g>
<polyline points="979.7,978.5 982.9,987.0 986.0,995.1 989.2,1002.7 992.3,1009.8 995.5,1016.6 998.7,1022.9 1001.8,1028.9 1005.0,1034.6 1008.1,1039.9 1011.3,1045.0 1014.5,1049.7 1017.6,1054.2 1020.8,1058.4 1023.9,1062.4 1027.1,1066.2 1030.2,1069.7 1033.4,1073.1 1036.6,1076.3 1039.7,1079.2 1042.9,1082.0 1046.0,1084.7 1049.2,1087.2 1052.4,1089.5 1055.5,1091.8 1058.7,1093.9 1061.8,1095.8 1065.0,1097.7 1068.2,1099.5 1071.3,1101.1 1074.5,1102.7 1077.6,1104.2 1080.8,1105.6 1084.0,1106.9 1087.1,1108.1 1090.3,1109.3 1093.4,1110.4 1096.6,1111.4 1099.7,1112.4 1102.9,1113.3 1106.1,1114.2 1109.2,1115.0 1112.4,1115.8 1115.5,1116.5 1118.7,1117.2 1121.9,1117.9 1125.0,1118.5 1128.2,1119.1 1131.3,1119.6 1134.5,1120.1 1137.7,1120.6 1140.8,1121.1 1144.0,1121.5 1147.1,1121.9 1150.3,1122.3 1153.5,1122.7 1156.6,1123.0 1159.8,1123.3 1162.9,1123.6 1166.1,1123.9 1169.2,1124.2 1172.4,1124.5 1175.6,1124.7 1178.7,1124.9 1181.9,1125.1 1185.0,1125.3 1188.2,1125.5 1191.4,1125.7 1194.5,1125.9 1197.7,1126.0 1200.8,1126.2 1204.0,1126.3 1207.2,1126.5 1210.3,1126.6 1213.5,1126.7 1216.6,1126.8 1219.8,1126.9 1223.0,1127.0 1226.1,1127.1 1229.3,1127.2 1232.4,1127.3" fill="none" stroke="#4f4a4a" stroke-width="2.3" stroke-linecap="round"/>
<polyline points="979.7,1278.9 982.9,1270.4 986.0,1262.3 989.2,1254.7 992.3,1247.6 995.5,1240.8 998.7,1234.5 1001.8,1228.5 1005.0,1222.8 1008.1,1217.5 1011.3,1212.4 1014.5,1207.7 1017.6,1203.2 1020.8,1199.0 1023.9,1195.0 1027.1,1191.2 1030.2,1187.7 1033.4,1184.3 1036.6,1181.1 1039.7,1178.2 1042.9,1175.4 1046.0,1172.7 1049.2,1170.2 1052.4,1167.9 1055.5,1165.6 1058.7,1163.5 1061.8,1161.6 1065.0,1159.7 1068.2,1157.9 1071.3,1156.3 1074.5,1154.7 1077.6,1153.2 1080.8,1151.8 1084.0,1150.5 1087.1,1149.3 1090.3,1148.1 1093.4,1147.0 1096.6,1146.0 1099.7,1145.0 1102.9,1144.1 1106.1,1143.2 1109.2,1142.4 1112.4,1141.6 1115.5,1140.9 1118.7,1140.2 1121.9,1139.5 1125.0,1138.9 1128.2,1138.3 1131.3,1137.8 1134.5,1137.3 1137.7,1136.8 1140.8,1136.3 1144.0,1135.9 1147.1,1135.5 1150.3,1135.1 1153.5,1134.7 1156.6,1134.4 1159.8,1134.1 1162.9,1133.8 1166.1,1133.5 1169.2,1133.2 1172.4,1132.9 1175.6,1132.7 1178.7,1132.5 1181.9,1132.3 1185.0,1132.1 1188.2,1131.9 1191.4,1131.7 1194.5,1131.5 1197.7,1131.4 1200.8,1131.2 1204.0,1131.1 1207.2,1130.9 1210.3,1130.8 1213.5,1130.7 1216.6,1130.6 1219.8,1130.5 1223.0,1130.4 1226.1,1130.3 1229.3,1130.2 1232.4,1130.1" fill="none" stroke="#4f4a4a" stroke-width="2.3" stroke-linecap="round"/>
<g fill="#827e7e"><circle cx="1192.7" cy="1126.8" r="5.6"/><circle cx="1192.7" cy="1129.3" r="5.6"/></g>
<line x1="931.44" y1="1128.70" x2="1236.24" y2="1128.70" stroke="#ffffff" stroke-width="2.0" opacity="0.22"/>
<line x1="923.80" y1="1128.70" x2="1245.10" y2="1128.70" stroke="#7d7979" stroke-width="2.0" stroke-dasharray="8.3 4.0" style="mix-blend-mode:multiply"/>

<rect x="922.80" y="964.00" width="323.30" height="329.30" fill="none" stroke="#2b2826" stroke-width="1.7"/>
<line x1="914.80" y1="1003.00" x2="922.80" y2="1003.00" stroke="#2b2826" stroke-width="1.7" />
<text x="892.12" y="1010.10" font-size="26.5" text-anchor="start" >6</text>
<line x1="914.80" y1="1065.85" x2="922.80" y2="1065.85" stroke="#2b2826" stroke-width="1.7" />
<text x="892.31" y="1072.95" font-size="26.5" text-anchor="start" >3</text>
<line x1="914.80" y1="1128.70" x2="922.80" y2="1128.70" stroke="#2b2826" stroke-width="1.7" />
<text x="892.15" y="1135.80" font-size="26.5" text-anchor="start" >0</text>
<line x1="914.80" y1="1191.55" x2="922.80" y2="1191.55" stroke="#2b2826" stroke-width="1.7" />
<text x="887.68" y="1198.65" font-size="26.5" text-anchor="start" >-3</text>
<line x1="914.80" y1="1254.40" x2="922.80" y2="1254.40" stroke="#2b2826" stroke-width="1.7" />
<text x="887.68" y="1261.50" font-size="26.5" text-anchor="start" >-6</text>
<line x1="979.70" y1="1293.30" x2="979.70" y2="1301.30" stroke="#2b2826" stroke-width="1.7" />
<text x="969.65" y="1323.70" font-size="26.5" text-anchor="start" >0</text>
<line x1="1043.20" y1="1293.30" x2="1043.20" y2="1301.30" stroke="#2b2826" stroke-width="1.7" />
<text x="1033.09" y="1323.70" font-size="26.5" text-anchor="start" >5</text>
<line x1="1106.70" y1="1293.30" x2="1106.70" y2="1301.30" stroke="#2b2826" stroke-width="1.7" />
<text x="1088.97" y="1323.70" font-size="26.5" text-anchor="start" >10</text>
<line x1="1170.20" y1="1293.30" x2="1170.20" y2="1301.30" stroke="#2b2826" stroke-width="1.7" />
<text x="1152.30" y="1323.70" font-size="26.5" text-anchor="start" >15</text>
<line x1="1233.70" y1="1293.30" x2="1233.70" y2="1301.30" stroke="#2b2826" stroke-width="1.7" />
<text x="1216.35" y="1323.70" font-size="26.5" text-anchor="start" >20</text>
<text x="1426.98" y="955.70" font-size="29.8" text-anchor="start" >15 min</text>
<polygon points="1367.1,978.5 1370.3,987.0 1373.4,995.1 1376.6,1002.7 1379.7,1009.8 1382.9,1016.6 1386.1,1022.9 1389.2,1028.9 1392.4,1034.6 1395.6,1039.9 1398.7,1045.0 1401.9,1049.7 1405.0,1054.2 1408.2,1058.4 1411.4,1062.4 1414.5,1066.2 1417.7,1069.7 1420.8,1073.1 1424.0,1076.3 1427.2,1079.2 1430.3,1082.0 1433.5,1084.7 1436.7,1087.2 1439.8,1089.5 1443.0,1091.8 1446.1,1093.9 1449.3,1095.8 1452.5,1097.7 1455.6,1099.5 1458.8,1101.1 1461.9,1102.7 1465.1,1104.2 1468.3,1105.6 1471.4,1106.9 1474.6,1108.1 1477.8,1109.3 1480.9,1110.4 1484.1,1111.4 1487.2,1112.4 1490.4,1113.3 1493.6,1114.2 1496.7,1115.0 1499.9,1115.8 1503.0,1116.5 1506.2,1117.2 1509.4,1117.9 1512.5,1118.5 1515.7,1119.1 1518.9,1119.6 1522.0,1120.1 1525.2,1120.6 1528.3,1121.1 1531.5,1121.5 1534.7,1121.9 1537.8,1122.3 1541.0,1122.7 1544.2,1123.0 1547.3,1123.3 1550.5,1123.6 1553.6,1123.9 1556.8,1124.2 1560.0,1124.5 1563.1,1124.7 1566.3,1124.9 1569.4,1125.1 1572.6,1125.3 1575.8,1125.5 1578.9,1125.7 1582.1,1125.9 1585.3,1126.0 1588.4,1126.2 1591.6,1126.3 1594.7,1126.5 1597.9,1126.6 1601.1,1126.7 1604.2,1126.8 1607.4,1126.9 1610.5,1127.0 1613.7,1127.1 1616.9,1127.2 1620.0,1127.3 1620.0,1130.1 1616.9,1130.2 1613.7,1130.3 1610.5,1130.4 1607.4,1130.5 1604.2,1130.6 1601.1,1130.7 1597.9,1130.8 1594.7,1130.9 1591.6,1131.1 1588.4,1131.2 1585.3,1131.4 1582.1,1131.5 1578.9,1131.7 1575.8,1131.9 1572.6,1132.1 1569.4,1132.3 1566.3,1132.5 1563.1,1132.7 1560.0,1132.9 1556.8,1133.2 1553.6,1133.5 1550.5,1133.8 1547.3,1134.1 1544.2,1134.4 1541.0,1134.7 1537.8,1135.1 1534.7,1135.5 1531.5,1135.9 1528.3,1136.3 1525.2,1136.8 1522.0,1137.3 1518.9,1137.8 1515.7,1138.3 1512.5,1138.9 1509.4,1139.5 1506.2,1140.2 1503.0,1140.9 1499.9,1141.6 1496.7,1142.4 1493.6,1143.2 1490.4,1144.1 1487.2,1145.0 1484.1,1146.0 1480.9,1147.0 1477.8,1148.1 1474.6,1149.3 1471.4,1150.5 1468.3,1151.8 1465.1,1153.2 1461.9,1154.7 1458.8,1156.3 1455.6,1157.9 1452.5,1159.7 1449.3,1161.6 1446.1,1163.5 1443.0,1165.6 1439.8,1167.9 1436.7,1170.2 1433.5,1172.7 1430.3,1175.4 1427.2,1178.2 1424.0,1181.1 1420.8,1184.3 1417.7,1187.7 1414.5,1191.2 1411.4,1195.0 1408.2,1199.0 1405.0,1203.2 1401.9,1207.7 1398.7,1212.4 1395.6,1217.5 1392.4,1222.8 1389.2,1228.5 1386.1,1234.5 1382.9,1240.8 1379.7,1247.6 1376.6,1254.7 1373.4,1262.3 1370.3,1270.4 1367.1,1278.9" fill="#c9c5c5"/>
<g fill="#827e7e"><polygon points="1329.7,1131.1 1367.3,1131.1 1359.2,1110.9 1361.9,1092.2 1370.0,1092.8 1384.7,1096.2 1391.4,1092.8 1400.8,1097.5 1411.5,1099.5 1422.3,1107.6 1433.0,1113.0 1446.4,1116.3 1457.1,1118.3 1469.2,1116.3 1479.9,1119.0 1487.9,1119.0 1505.4,1125.7 1505.4,1128.4 1489.3,1133.7 1483.9,1134.4 1466.5,1133.1 1455.8,1137.8 1449.1,1140.4 1435.7,1140.4 1424.9,1148.5 1414.2,1149.2 1406.2,1156.5 1392.8,1156.5 1374.0,1152.5 1374.0,1143.1 1371.3,1136.4 1365.9,1133.7 1329.7,1133.1"/><circle cx="1330.6" cy="1133.4" r="5.6"/><circle cx="1337.4" cy="1132.5" r="5.6"/><circle cx="1343.7" cy="1132.5" r="5.6"/><circle cx="1353.1" cy="1132.9" r="5.6"/><circle cx="1361.6" cy="1132.0" r="5.6"/><circle cx="1368.5" cy="1129.6" r="5.6"/><circle cx="1366.1" cy="1122.1" r="5.6"/><circle cx="1364.0" cy="1117.4" r="5.6"/><circle cx="1359.6" cy="1109.3" r="5.6"/><circle cx="1360.4" cy="1103.0" r="5.6"/><circle cx="1363.8" cy="1097.6" r="5.6"/><circle cx="1363.7" cy="1094.5" r="5.6"/><circle cx="1371.4" cy="1094.9" r="5.6"/><circle cx="1379.0" cy="1096.9" r="5.6"/><circle cx="1386.8" cy="1095.8" r="5.6"/><circle cx="1391.7" cy="1095.4" r="5.6"/><circle cx="1397.3" cy="1096.4" r="5.6"/><circle cx="1402.6" cy="1100.5" r="5.6"/><circle cx="1410.7" cy="1100.4" r="5.6"/><circle cx="1412.5" cy="1102.2" r="5.6"/><circle cx="1417.8" cy="1105.3" r="5.6"/><circle cx="1422.6" cy="1109.1" r="5.6"/><circle cx="1429.0" cy="1113.9" r="5.6"/><circle cx="1434.6" cy="1113.5" r="5.6"/><circle cx="1439.4" cy="1116.9" r="5.6"/><circle cx="1448.9" cy="1118.0" r="5.6"/><circle cx="1453.9" cy="1118.8" r="5.6"/><circle cx="1460.3" cy="1120.6" r="5.6"/><circle cx="1467.1" cy="1117.8" r="5.6"/><circle cx="1470.9" cy="1117.4" r="5.6"/><circle cx="1476.6" cy="1118.2" r="5.6"/><circle cx="1482.0" cy="1119.3" r="5.6"/><circle cx="1487.3" cy="1121.4" r="5.6"/><circle cx="1493.4" cy="1121.1" r="5.6"/><circle cx="1500.8" cy="1124.7" r="5.6"/><circle cx="1505.2" cy="1126.3" r="5.6"/><circle cx="1502.6" cy="1126.8" r="5.6"/><circle cx="1495.4" cy="1131.4" r="5.6"/><circle cx="1487.0" cy="1132.7" r="5.6"/><circle cx="1483.4" cy="1131.7" r="5.6"/><circle cx="1475.0" cy="1133.7" r="5.6"/><circle cx="1470.0" cy="1131.5" r="5.6"/><circle cx="1465.9" cy="1132.4" r="5.6"/><circle cx="1458.5" cy="1136.1" r="5.6"/><circle cx="1454.4" cy="1138.1" r="5.6"/><circle cx="1447.3" cy="1139.2" r="5.6"/><circle cx="1439.3" cy="1140.0" r="5.6"/><circle cx="1433.7" cy="1139.6" r="5.6"/><circle cx="1427.8" cy="1144.9" r="5.6"/><circle cx="1422.4" cy="1146.0" r="5.6"/><circle cx="1412.4" cy="1149.7" r="5.6"/><circle cx="1407.2" cy="1151.9" r="5.6"/><circle cx="1403.7" cy="1155.6" r="5.6"/><circle cx="1396.0" cy="1153.8" r="5.6"/><circle cx="1391.2" cy="1155.3" r="5.6"/><circle cx="1384.7" cy="1152.3" r="5.6"/><circle cx="1378.1" cy="1151.4" r="5.6"/><circle cx="1376.3" cy="1149.8" r="5.6"/><circle cx="1374.0" cy="1143.5" r="5.6"/><circle cx="1375.0" cy="1141.3" r="5.6"/><circle cx="1369.0" cy="1135.1" r="5.6"/><circle cx="1363.6" cy="1131.3" r="5.6"/><circle cx="1356.0" cy="1132.8" r="5.6"/><circle cx="1347.2" cy="1131.1" r="5.6"/><circle cx="1339.1" cy="1130.7" r="5.6"/><circle cx="1332.5" cy="1132.9" r="5.6"/><circle cx="1336.7" cy="1082.5" r="5.6"/><circle cx="1370.6" cy="1082.1" r="5.6"/><circle cx="1347.2" cy="1110.9" r="5.6"/><circle cx="1356.3" cy="1151.8" r="5.6"/><circle cx="1423.6" cy="1164.6" r="5.6"/><circle cx="1385.4" cy="1163.9" r="5.6"/><circle cx="1382.7" cy="1171.3" r="5.6"/><circle cx="1396.1" cy="1173.3" r="5.6"/><circle cx="1406.8" cy="1167.9" r="5.6"/><circle cx="1407.5" cy="1173.3" r="5.6"/></g>
<g fill="#94a3cf"><circle cx="1515.0" cy="1141.2" r="5.6"/><circle cx="1515.7" cy="1142.3" r="5.6"/></g>
<polyline points="1367.1,978.5 1370.3,987.0 1373.4,995.1 1376.6,1002.7 1379.7,1009.8 1382.9,1016.6 1386.1,1022.9 1389.2,1028.9 1392.4,1034.6 1395.6,1039.9 1398.7,1045.0 1401.9,1049.7 1405.0,1054.2 1408.2,1058.4 1411.4,1062.4 1414.5,1066.2 1417.7,1069.7 1420.8,1073.1 1424.0,1076.3 1427.2,1079.2 1430.3,1082.0 1433.5,1084.7 1436.7,1087.2 1439.8,1089.5 1443.0,1091.8 1446.1,1093.9 1449.3,1095.8 1452.5,1097.7 1455.6,1099.5 1458.8,1101.1 1461.9,1102.7 1465.1,1104.2 1468.3,1105.6 1471.4,1106.9 1474.6,1108.1 1477.8,1109.3 1480.9,1110.4 1484.1,1111.4 1487.2,1112.4 1490.4,1113.3 1493.6,1114.2 1496.7,1115.0 1499.9,1115.8 1503.0,1116.5 1506.2,1117.2 1509.4,1117.9 1512.5,1118.5 1515.7,1119.1 1518.9,1119.6 1522.0,1120.1 1525.2,1120.6 1528.3,1121.1 1531.5,1121.5 1534.7,1121.9 1537.8,1122.3 1541.0,1122.7 1544.2,1123.0 1547.3,1123.3 1550.5,1123.6 1553.6,1123.9 1556.8,1124.2 1560.0,1124.5 1563.1,1124.7 1566.3,1124.9 1569.4,1125.1 1572.6,1125.3 1575.8,1125.5 1578.9,1125.7 1582.1,1125.9 1585.3,1126.0 1588.4,1126.2 1591.6,1126.3 1594.7,1126.5 1597.9,1126.6 1601.1,1126.7 1604.2,1126.8 1607.4,1126.9 1610.5,1127.0 1613.7,1127.1 1616.9,1127.2 1620.0,1127.3" fill="none" stroke="#4f4a4a" stroke-width="2.3" stroke-linecap="round"/>
<polyline points="1367.1,1278.9 1370.3,1270.4 1373.4,1262.3 1376.6,1254.7 1379.7,1247.6 1382.9,1240.8 1386.1,1234.5 1389.2,1228.5 1392.4,1222.8 1395.6,1217.5 1398.7,1212.4 1401.9,1207.7 1405.0,1203.2 1408.2,1199.0 1411.4,1195.0 1414.5,1191.2 1417.7,1187.7 1420.8,1184.3 1424.0,1181.1 1427.2,1178.2 1430.3,1175.4 1433.5,1172.7 1436.7,1170.2 1439.8,1167.9 1443.0,1165.6 1446.1,1163.5 1449.3,1161.6 1452.5,1159.7 1455.6,1157.9 1458.8,1156.3 1461.9,1154.7 1465.1,1153.2 1468.3,1151.8 1471.4,1150.5 1474.6,1149.3 1477.8,1148.1 1480.9,1147.0 1484.1,1146.0 1487.2,1145.0 1490.4,1144.1 1493.6,1143.2 1496.7,1142.4 1499.9,1141.6 1503.0,1140.9 1506.2,1140.2 1509.4,1139.5 1512.5,1138.9 1515.7,1138.3 1518.9,1137.8 1522.0,1137.3 1525.2,1136.8 1528.3,1136.3 1531.5,1135.9 1534.7,1135.5 1537.8,1135.1 1541.0,1134.7 1544.2,1134.4 1547.3,1134.1 1550.5,1133.8 1553.6,1133.5 1556.8,1133.2 1560.0,1132.9 1563.1,1132.7 1566.3,1132.5 1569.4,1132.3 1572.6,1132.1 1575.8,1131.9 1578.9,1131.7 1582.1,1131.5 1585.3,1131.4 1588.4,1131.2 1591.6,1131.1 1594.7,1130.9 1597.9,1130.8 1601.1,1130.7 1604.2,1130.6 1607.4,1130.5 1610.5,1130.4 1613.7,1130.3 1616.9,1130.2 1620.0,1130.1" fill="none" stroke="#4f4a4a" stroke-width="2.3" stroke-linecap="round"/>
<g fill="#827e7e"><circle cx="1580.2" cy="1126.8" r="5.6"/><circle cx="1580.2" cy="1129.3" r="5.6"/></g>
<line x1="1318.80" y1="1128.70" x2="1623.84" y2="1128.70" stroke="#ffffff" stroke-width="2.0" opacity="0.22"/>
<line x1="1311.60" y1="1128.70" x2="1632.70" y2="1128.70" stroke="#7d7979" stroke-width="2.0" stroke-dasharray="8.3 4.0" style="mix-blend-mode:multiply"/>

<rect x="1310.60" y="964.00" width="323.10" height="329.30" fill="none" stroke="#2b2826" stroke-width="1.7"/>
<line x1="1302.60" y1="1003.00" x2="1310.60" y2="1003.00" stroke="#2b2826" stroke-width="1.7" />
<text x="1280.62" y="1010.10" font-size="26.5" text-anchor="start" >6</text>
<line x1="1302.60" y1="1065.85" x2="1310.60" y2="1065.85" stroke="#2b2826" stroke-width="1.7" />
<text x="1280.81" y="1072.95" font-size="26.5" text-anchor="start" >3</text>
<line x1="1302.60" y1="1128.70" x2="1310.60" y2="1128.70" stroke="#2b2826" stroke-width="1.7" />
<text x="1280.65" y="1135.80" font-size="26.5" text-anchor="start" >0</text>
<line x1="1302.60" y1="1191.55" x2="1310.60" y2="1191.55" stroke="#2b2826" stroke-width="1.7" />
<text x="1276.18" y="1198.65" font-size="26.5" text-anchor="start" >-3</text>
<line x1="1302.60" y1="1254.40" x2="1310.60" y2="1254.40" stroke="#2b2826" stroke-width="1.7" />
<text x="1276.18" y="1261.50" font-size="26.5" text-anchor="start" >-6</text>
<line x1="1367.10" y1="1293.30" x2="1367.10" y2="1301.30" stroke="#2b2826" stroke-width="1.7" />
<text x="1357.05" y="1323.70" font-size="26.5" text-anchor="start" >0</text>
<line x1="1430.65" y1="1293.30" x2="1430.65" y2="1301.30" stroke="#2b2826" stroke-width="1.7" />
<text x="1420.54" y="1323.70" font-size="26.5" text-anchor="start" >5</text>
<line x1="1494.20" y1="1293.30" x2="1494.20" y2="1301.30" stroke="#2b2826" stroke-width="1.7" />
<text x="1476.47" y="1323.70" font-size="26.5" text-anchor="start" >10</text>
<line x1="1557.75" y1="1293.30" x2="1557.75" y2="1301.30" stroke="#2b2826" stroke-width="1.7" />
<text x="1539.85" y="1323.70" font-size="26.5" text-anchor="start" >15</text>
<line x1="1621.30" y1="1293.30" x2="1621.30" y2="1301.30" stroke="#2b2826" stroke-width="1.7" />
<text x="1603.95" y="1323.70" font-size="26.5" text-anchor="start" >20</text>
<line x1="56.00" y1="525.00" x2="56.00" y2="854.20" stroke="#1a1a1a" stroke-width="2.0" />
<line x1="56.20" y1="960.40" x2="56.20" y2="1288.40" stroke="#1a1a1a" stroke-width="2.0" />
<text transform="translate(47.5,698.8) rotate(-90)" font-size="26.5" text-anchor="middle">Susceptible</text>
<text transform="translate(48.0,1140.1) rotate(-90)" font-size="26.5" text-anchor="middle">Resistant</text>
<text transform="translate(100.1,692.6) rotate(-90)" text-anchor="middle" font-size="26.5">-Log<tspan font-size="14.5" dy="8.2">2</tspan><tspan dy="-8.2"> C:T ratio</tspan></text>
<text transform="translate(95.8,1129.0) rotate(-90)" text-anchor="middle" font-size="26.5">-Log<tspan font-size="14.5" dy="8.2">2</tspan><tspan dy="-8.2"> C:T ratio</tspan></text>
<text x="805.0" y="915.8" font-size="26.5">Log<tspan font-size="14.5" dy="8.2">2</tspan><tspan dy="-8.2"> expression</tspan></text>
<text x="792.4" y="1352.7" font-size="26.5">Log<tspan font-size="14.5" dy="8.2">2</tspan><tspan dy="-8.2"> expression</tspan></text>
</svg>
</body></html>
